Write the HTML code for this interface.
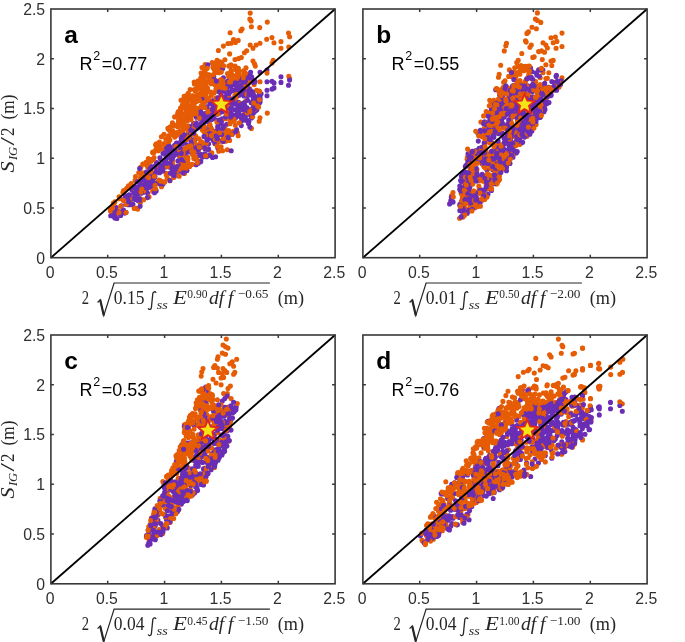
<!DOCTYPE html>
<html><head><meta charset="utf-8"><style>
html,body{margin:0;padding:0;background:#fff;}
svg{display:block;will-change:transform;}
.tk{font-family:"Liberation Sans",sans-serif;font-size:15.8px;fill:#303030;}
.pl{font-family:"Liberation Sans",sans-serif;font-size:24.5px;font-weight:bold;fill:#000;}
.r2{font-family:"Liberation Sans",sans-serif;font-size:18px;fill:#000;}
.lab{font-family:"Liberation Serif",serif;font-size:19px;fill:#262626;}
</style></head><body>
<svg width="685" height="642" viewBox="0 0 685 642">
<rect width="685" height="642" fill="#fff"/>
<g>
<path d="M203.9 131.5h0M198.3 111.1h0M225.7 141.2h0M197.9 96.8h0M202.1 88.6h0M214.8 143.4h0M167.8 137.6h0M256.5 90.4h0M242.1 29.0h0M168.5 135.7h0M238.4 73.2h0M238.4 68.4h0M172.7 164.3h0M249.8 88.9h0M240.1 107.8h0M209.3 79.8h0M130.6 204.7h0M187.4 114.0h0M130.0 196.1h0M212.5 75.6h0M174.1 125.4h0M173.7 126.0h0M246.7 50.8h0M141.2 185.3h0M165.7 138.8h0M205.8 69.6h0M237.3 75.2h0M198.2 88.3h0M222.0 119.8h0M188.0 95.6h0M215.1 85.1h0M235.3 79.8h0M202.4 97.3h0M201.1 73.0h0M288.8 76.2h0M218.0 67.1h0M147.4 165.4h0M245.7 101.0h0M183.2 122.4h0M192.5 103.8h0M245.9 119.6h0M231.0 64.8h0M219.8 65.0h0M166.3 174.9h0M223.4 128.1h0M272.0 63.0h0M178.0 123.8h0M177.7 114.3h0M196.9 108.2h0M138.7 172.8h0M196.9 124.7h0M183.7 124.9h0M281.0 41.6h0M241.2 90.1h0M218.8 63.4h0M220.9 80.6h0M237.4 132.6h0M181.0 151.9h0M196.6 96.0h0M185.0 121.0h0M259.1 91.0h0M200.1 93.6h0M188.3 107.0h0M218.8 62.8h0M164.6 143.8h0M251.5 110.4h0M211.2 83.8h0M227.3 149.7h0M135.8 208.4h0M250.2 13.1h0M175.7 153.8h0M194.2 82.0h0M193.9 133.9h0M208.0 100.2h0M244.3 92.6h0M178.7 117.0h0M184.2 117.7h0M182.2 131.6h0M157.6 182.1h0M267.3 22.1h0" stroke="#E65C05" stroke-width="5.1" stroke-linecap="round" fill="none"/>
<path d="M166.0 148.2h0M203.3 145.2h0M255.5 101.2h0M179.5 142.9h0M240.5 78.5h0M149.5 177.9h0M220.2 92.3h0M237.3 103.9h0M236.5 129.5h0M223.4 77.8h0M176.2 144.7h0M142.3 187.5h0M164.0 162.1h0M212.9 108.5h0M186.6 158.9h0M217.2 120.2h0M267.0 90.2h0M133.3 186.5h0M172.4 170.0h0M117.8 213.3h0M187.2 164.9h0M255.4 111.1h0M216.9 100.2h0M252.0 108.8h0M218.3 123.6h0M208.7 135.2h0M149.6 167.5h0M193.4 139.9h0M144.0 188.6h0M253.3 80.1h0M173.6 171.7h0M244.4 114.4h0M251.6 118.0h0M185.7 150.7h0M141.6 185.2h0M237.4 81.5h0M146.5 172.2h0M207.3 113.1h0M226.8 93.0h0M237.4 81.5h0M274.0 82.9h0M116.2 207.5h0M218.2 132.5h0M176.5 143.3h0M197.4 160.5h0M180.1 150.0h0M129.1 194.8h0M222.0 118.8h0M244.9 88.8h0M225.7 90.6h0M221.5 121.4h0M171.8 157.4h0M244.8 106.2h0M202.3 119.4h0M128.8 197.0h0M224.2 102.1h0M217.8 148.1h0M125.5 195.8h0M239.3 87.0h0M187.5 138.5h0M202.8 146.3h0M116.5 213.2h0M223.0 128.7h0M203.2 124.4h0M227.5 91.8h0M230.4 108.9h0M148.1 187.7h0" stroke="#6A2DB5" stroke-width="5.1" stroke-linecap="round" fill="none"/>
<path d="M250.0 94.1h0M170.4 147.9h0M226.8 124.3h0M208.8 112.5h0M131.9 190.0h0M187.0 145.4h0M207.5 136.4h0M189.4 129.4h0M203.2 122.9h0M200.7 154.2h0M194.8 123.4h0M156.6 162.5h0M239.4 110.7h0M232.2 134.3h0M171.1 153.9h0M208.7 150.0h0M147.7 193.3h0M173.6 156.0h0M195.1 158.3h0M196.2 122.7h0M241.9 120.4h0M205.3 156.3h0M189.4 126.6h0M252.6 92.0h0M233.1 90.7h0M202.1 155.7h0M251.6 76.9h0M175.4 150.6h0M185.7 140.5h0M247.0 107.7h0M164.6 166.3h0M223.2 90.2h0M223.2 141.5h0M203.4 122.7h0M248.0 114.2h0M196.3 128.8h0M115.6 213.0h0M141.8 184.9h0M176.1 168.0h0M150.8 168.1h0M144.3 178.5h0M166.3 164.4h0M254.2 80.9h0M182.5 136.0h0M213.2 100.6h0M245.2 120.1h0M219.3 86.8h0M252.3 111.5h0M246.4 93.9h0M258.5 98.9h0M222.0 110.8h0M115.3 209.7h0M225.5 133.6h0M170.1 148.3h0M244.1 102.7h0M252.6 79.8h0M145.0 176.9h0M156.8 163.6h0M123.4 210.1h0M207.3 149.2h0M214.9 101.1h0M165.6 160.0h0M138.2 200.7h0M238.0 108.1h0M134.7 191.4h0M225.4 98.0h0M251.6 109.2h0M227.0 132.3h0M253.0 100.8h0M144.4 191.2h0M173.1 175.9h0M245.6 78.8h0M156.2 190.9h0M151.6 187.3h0" stroke="#6A2DB5" stroke-width="5.1" stroke-linecap="round" fill="none"/>
<path d="M211.0 92.0h0M187.8 157.4h0M289.6 78.5h0M181.8 130.8h0M221.1 146.7h0M198.3 151.2h0M208.3 110.2h0M184.5 173.4h0M190.7 107.4h0M189.4 98.5h0M193.8 108.3h0M230.8 66.6h0M149.3 174.7h0M223.9 109.7h0M168.3 137.9h0M229.6 140.4h0M235.9 103.7h0M184.1 126.6h0M149.0 196.9h0M161.5 186.8h0M288.5 33.1h0M153.4 159.3h0M176.1 168.4h0M189.1 111.2h0M239.2 71.0h0M166.8 174.2h0M156.4 143.9h0M161.9 149.0h0M239.3 107.6h0M209.4 123.4h0M187.7 162.8h0M225.4 118.8h0M205.6 97.8h0M140.3 203.0h0M233.5 131.2h0M221.6 89.9h0M199.9 100.5h0M208.3 130.9h0M191.0 149.6h0M248.1 92.6h0M156.8 144.2h0M215.1 80.3h0M231.1 85.8h0M202.4 130.0h0M182.4 131.4h0M183.8 127.6h0M196.5 101.6h0M220.4 67.4h0M177.7 166.6h0M267.3 113.1h0M169.9 180.7h0M235.0 59.5h0M134.6 192.3h0M209.3 124.6h0M206.7 98.4h0M251.7 109.7h0M201.5 125.2h0M191.8 105.9h0M204.2 73.9h0M232.7 75.2h0M178.4 166.0h0M192.7 96.4h0M170.9 160.9h0M260.0 43.2h0M217.1 60.2h0M137.7 209.1h0M155.8 150.3h0M181.8 168.2h0M213.7 81.1h0M130.8 202.9h0M178.2 133.2h0M204.9 81.7h0M273.2 60.2h0M233.1 79.6h0M209.8 155.5h0M272.0 37.6h0M223.8 83.5h0M145.8 181.4h0M240.5 117.0h0M212.6 132.4h0M231.7 121.3h0M243.8 74.4h0" stroke="#E65C05" stroke-width="5.1" stroke-linecap="round" fill="none"/>
<path d="M182.8 169.4h0M229.3 131.6h0M193.5 102.0h0M135.5 176.5h0M176.3 172.9h0M230.0 123.7h0M156.8 146.8h0M227.9 131.8h0M184.9 115.6h0M191.6 131.6h0M156.3 149.3h0M215.9 89.3h0M225.2 83.7h0M231.0 70.8h0M116.1 213.3h0M188.5 116.5h0M167.2 177.7h0M289.6 36.8h0M197.0 160.5h0M148.4 159.4h0M184.2 106.8h0M241.2 76.7h0M244.4 52.8h0M254.6 108.0h0M217.6 127.1h0M110.7 208.1h0M213.1 66.9h0M171.7 173.2h0M211.8 109.0h0M204.7 102.0h0M227.5 112.9h0M169.1 130.0h0M158.5 150.7h0M225.2 134.1h0M195.3 101.7h0M214.9 72.7h0M189.1 95.4h0M197.8 111.6h0M192.4 95.7h0M246.1 83.9h0M196.8 157.0h0M218.1 62.1h0M119.1 196.8h0M182.8 116.4h0M142.5 172.8h0M211.8 152.9h0M194.3 89.5h0M233.0 81.1h0M220.0 61.7h0M169.9 140.1h0M158.5 146.0h0M178.5 120.6h0M228.6 76.8h0M152.1 159.9h0M201.9 145.6h0M159.4 142.0h0M223.3 81.2h0M234.3 121.1h0M219.9 62.1h0M251.4 128.4h0M200.5 109.3h0M140.6 167.5h0M171.1 150.1h0M146.6 176.6h0M204.3 87.4h0M213.9 92.9h0M177.7 126.7h0M188.5 109.3h0M172.6 130.7h0M202.0 67.6h0M228.7 96.6h0M220.2 80.3h0M245.9 115.0h0M166.2 173.3h0M216.5 91.3h0M254.2 84.6h0M168.5 142.5h0M213.9 82.6h0M168.5 129.1h0" stroke="#E65C05" stroke-width="5.1" stroke-linecap="round" fill="none"/>
<path d="M212.9 105.2h0M226.9 87.7h0M227.5 107.9h0M241.2 117.0h0M151.2 166.5h0M257.5 96.9h0M259.7 102.4h0M169.5 146.3h0M140.4 200.3h0M149.1 177.0h0M238.6 80.2h0M224.3 100.5h0M288.5 85.2h0M212.8 112.3h0M258.9 97.2h0M193.6 123.6h0M176.6 143.1h0M225.1 97.4h0M243.6 85.7h0M148.6 180.7h0M217.8 97.9h0M243.0 115.4h0M121.2 205.9h0M242.9 83.0h0M164.2 153.4h0M216.7 143.0h0M150.2 179.6h0M209.9 103.4h0M165.5 167.0h0M143.0 191.7h0M247.6 100.2h0M175.0 171.7h0M174.3 176.7h0M159.6 172.8h0M253.1 97.2h0M232.0 119.5h0M251.4 91.2h0M230.5 86.2h0M236.5 103.6h0M188.5 133.7h0M219.6 141.0h0M181.2 138.4h0M256.9 109.8h0M220.2 98.9h0M182.8 136.0h0M120.7 215.5h0M184.9 166.6h0M180.0 156.6h0M196.1 164.7h0M192.7 154.0h0M255.1 81.6h0M165.9 158.9h0M125.4 196.8h0M183.6 136.5h0M201.7 117.7h0M217.2 137.8h0M189.2 126.4h0M241.9 91.8h0M210.8 132.8h0M155.0 176.4h0M260.2 99.2h0M237.1 104.1h0M189.3 133.8h0M160.7 165.3h0M155.5 189.8h0M221.2 94.1h0M152.0 184.4h0M187.0 117.1h0M241.7 106.1h0M224.7 105.8h0M174.6 145.2h0M202.5 157.0h0M159.2 183.7h0M183.9 161.3h0M212.4 137.0h0M215.0 143.2h0M139.9 184.7h0M225.7 131.7h0" stroke="#6A2DB5" stroke-width="5.1" stroke-linecap="round" fill="none"/>
<path d="M244.7 105.3h0M199.1 146.2h0M210.2 119.4h0M194.2 142.1h0M129.9 200.8h0M127.0 197.8h0M163.0 184.0h0M222.7 68.6h0M185.2 154.4h0M190.3 127.1h0M259.4 93.2h0M222.5 140.7h0M213.8 132.3h0M202.1 98.4h0M221.2 97.1h0M214.9 109.3h0M217.9 126.3h0M224.7 104.8h0M189.2 152.0h0M144.3 180.4h0M208.2 115.0h0M189.5 148.2h0M186.0 137.3h0M237.5 95.8h0M214.0 101.7h0M216.9 112.4h0M218.1 122.4h0M170.0 148.4h0M200.8 161.4h0M237.5 91.3h0M199.8 155.3h0M125.7 197.9h0M229.2 99.8h0M232.1 134.0h0M147.3 197.6h0M230.9 116.9h0M142.9 180.2h0M249.8 75.4h0M247.8 84.4h0M226.8 93.3h0M125.9 212.2h0M121.3 213.2h0M253.4 82.4h0M230.7 100.5h0M208.5 148.8h0M246.7 114.5h0M246.6 88.5h0M165.4 160.1h0M260.0 96.4h0M193.1 130.8h0M167.1 154.3h0M224.8 99.0h0M181.5 138.7h0M221.6 134.6h0M146.2 190.4h0M235.7 131.8h0M205.6 117.5h0M114.9 217.9h0M230.8 102.4h0M181.9 164.7h0M214.1 134.1h0M183.8 149.0h0M214.2 118.5h0M212.5 157.5h0M167.6 163.5h0M223.9 90.0h0M130.4 200.5h0M251.5 116.6h0M167.4 151.5h0M241.3 125.6h0M182.9 171.4h0M239.4 115.4h0M251.2 77.8h0M179.8 171.2h0M253.5 113.0h0M183.7 142.5h0M215.8 107.6h0M195.1 139.6h0" stroke="#6A2DB5" stroke-width="5.1" stroke-linecap="round" fill="none"/>
<path d="M260.0 81.7h0M186.7 126.5h0M217.9 72.0h0M229.8 119.9h0M200.9 147.2h0M238.2 40.4h0M245.4 74.0h0M200.7 143.6h0M198.0 85.8h0M202.7 91.7h0M211.2 137.7h0M164.5 144.4h0M288.8 47.1h0M119.5 198.8h0M231.5 134.6h0M152.6 191.3h0M207.5 88.0h0M149.3 159.8h0M192.0 164.4h0M230.4 120.6h0M229.7 117.9h0M177.1 132.7h0M259.7 27.6h0M118.0 210.8h0M208.6 81.4h0M193.8 158.6h0M176.6 132.6h0M198.1 110.6h0M180.3 158.1h0M218.8 88.2h0M202.4 94.4h0M240.8 30.7h0M170.8 130.5h0M187.4 120.7h0M210.5 80.5h0M258.6 106.9h0M229.6 53.9h0M168.7 139.1h0M177.4 170.2h0M170.3 126.8h0M253.0 48.2h0M171.3 131.8h0M260.0 117.8h0M146.0 162.4h0M200.4 126.5h0M181.7 169.8h0M232.0 80.0h0M253.0 61.1h0M176.6 135.1h0M184.8 128.8h0M238.4 75.9h0M183.0 99.7h0M203.1 78.3h0M178.8 133.1h0M148.3 162.6h0M145.4 182.7h0M205.3 94.2h0M140.4 178.1h0M192.4 146.4h0M179.2 150.8h0M179.9 131.0h0M206.2 84.2h0M199.6 99.7h0M236.1 97.6h0M114.0 203.5h0M221.1 79.6h0M128.5 185.8h0M205.1 86.9h0M233.5 120.9h0M221.9 64.2h0M200.9 77.6h0M186.8 111.9h0M160.6 181.1h0M147.6 167.0h0M178.6 126.5h0M155.8 170.8h0" stroke="#E65C05" stroke-width="5.1" stroke-linecap="round" fill="none"/>
<path d="M235.6 68.0h0M234.7 100.8h0M120.7 206.3h0M181.0 116.7h0M217.4 67.6h0M183.1 126.6h0M194.4 84.0h0M237.5 72.5h0M223.6 126.2h0M180.5 108.0h0M140.0 198.5h0M199.4 95.3h0M194.3 141.1h0M200.0 143.6h0M243.4 110.1h0M182.2 130.9h0M194.0 107.5h0M206.5 155.9h0M212.2 62.5h0M237.5 78.3h0M154.0 189.8h0M254.2 109.5h0M197.6 96.9h0M204.9 148.8h0M114.9 201.9h0M167.9 128.4h0M186.0 115.4h0M201.0 93.3h0M229.3 105.2h0M211.3 95.5h0M189.2 137.8h0M236.3 75.5h0M180.1 167.1h0M182.0 113.7h0M113.4 203.1h0M213.1 67.4h0M190.1 89.6h0M209.0 99.2h0M131.4 184.8h0M220.1 63.5h0M182.4 125.1h0M218.2 88.0h0M193.7 127.9h0M169.1 128.0h0M159.6 146.0h0M249.8 19.0h0M219.0 141.5h0M215.3 65.5h0M196.9 145.0h0M186.2 110.0h0M194.1 104.9h0M228.0 43.5h0M186.1 95.9h0M185.9 135.6h0M255.1 103.3h0M154.1 157.6h0M172.5 161.1h0M151.7 159.5h0M136.7 208.2h0M186.8 147.5h0M204.3 79.8h0M194.1 115.0h0M218.0 85.5h0M131.2 183.5h0M237.1 76.4h0M239.0 72.3h0M198.3 108.4h0M177.9 112.7h0M198.7 146.2h0M180.8 153.9h0M218.7 151.3h0M184.0 102.6h0M194.5 148.9h0M205.5 136.8h0M195.9 136.3h0M190.2 117.3h0M197.0 95.4h0M190.7 117.9h0M189.0 165.6h0M201.6 141.8h0M204.6 145.4h0M197.7 85.7h0M146.5 187.1h0M143.6 199.7h0M223.4 46.1h0M183.6 119.3h0M194.9 123.8h0M202.9 74.0h0M192.8 111.8h0" stroke="#E65C05" stroke-width="5.1" stroke-linecap="round" fill="none"/>
<path d="M169.9 180.5h0M156.6 168.1h0M231.2 85.6h0M128.3 204.8h0M138.1 187.6h0M169.4 167.1h0M200.0 161.9h0M242.8 90.5h0M246.4 114.0h0M236.5 89.3h0M260.0 101.9h0M177.0 166.6h0M239.1 92.8h0M151.5 178.5h0M219.3 91.8h0M116.9 218.5h0M206.6 121.1h0M169.6 148.5h0M155.8 172.2h0M135.4 187.7h0M205.1 148.7h0M235.8 117.5h0M214.8 110.0h0M230.3 113.9h0M213.3 140.5h0M154.3 177.7h0M207.7 115.6h0M204.0 145.0h0M188.9 128.3h0M229.7 85.3h0M215.6 156.7h0M121.4 211.9h0M181.2 163.5h0M216.7 114.3h0M190.8 146.2h0M267.0 70.0h0M260.0 72.3h0M207.9 134.3h0M216.2 130.8h0M142.0 189.6h0M229.2 102.3h0M243.3 84.8h0M180.4 154.2h0M133.0 204.3h0M184.1 152.9h0M222.6 140.3h0M267.0 95.7h0M170.0 155.2h0M170.8 150.5h0M211.8 114.2h0M135.6 188.5h0M246.7 112.9h0M226.4 91.8h0M229.1 93.5h0M200.4 119.1h0M166.8 150.2h0M220.9 106.7h0M196.6 159.6h0M242.8 109.4h0M145.4 184.3h0M221.4 99.2h0M146.8 186.8h0M235.3 84.8h0M198.2 163.3h0M198.4 149.5h0M139.6 182.6h0M214.6 112.6h0M281.0 76.7h0M241.8 79.4h0M241.2 85.0h0M238.1 103.0h0M207.1 106.7h0M214.8 113.6h0M261.1 93.8h0" stroke="#6A2DB5" stroke-width="5.1" stroke-linecap="round" fill="none"/>
<path d="M183.9 151.2h0M142.4 179.4h0M156.5 172.0h0M184.6 134.9h0M205.3 115.7h0M200.8 111.7h0M253.5 105.2h0M199.2 86.4h0M174.8 150.2h0M220.1 123.5h0M206.6 156.7h0M211.6 119.5h0M167.1 151.2h0M198.0 127.8h0M249.3 76.7h0M155.3 165.6h0M245.2 83.4h0M156.6 164.0h0M183.2 172.9h0M253.8 95.0h0M159.9 157.7h0M249.8 127.1h0M237.2 110.3h0M236.4 89.1h0M241.6 116.8h0M190.3 135.6h0M115.8 210.5h0M205.4 127.7h0M125.9 204.3h0M247.0 95.5h0M200.7 154.9h0M204.7 120.4h0M182.0 136.2h0M254.1 108.7h0M243.2 86.8h0M160.2 158.6h0M230.4 91.6h0M152.6 180.3h0M281.0 82.4h0M195.6 125.1h0M209.5 155.2h0M218.6 129.7h0M248.5 123.6h0M210.7 127.7h0M207.0 121.1h0M213.8 76.6h0M230.0 114.4h0M193.2 132.9h0M238.5 102.2h0M165.1 154.3h0M196.4 117.3h0M170.7 173.1h0M152.7 174.0h0M208.8 138.5h0M135.7 196.9h0M204.8 153.8h0M248.9 89.1h0M200.0 114.9h0M150.7 184.3h0M251.2 102.8h0M215.1 106.1h0M151.9 183.0h0M244.5 82.2h0M274.0 87.9h0M164.1 165.5h0M146.4 172.1h0M240.5 106.6h0M249.7 92.5h0M234.9 83.1h0M124.9 213.1h0M236.7 103.6h0M208.6 143.8h0M139.5 198.9h0M134.4 197.8h0M170.2 163.4h0M234.4 115.2h0M151.3 182.6h0M145.4 188.3h0M244.1 96.0h0M143.6 192.2h0M225.8 92.1h0M211.9 117.7h0M197.9 127.1h0M155.5 183.6h0M191.0 141.9h0" stroke="#6A2DB5" stroke-width="5.1" stroke-linecap="round" fill="none"/>
<path d="M225.0 128.5h0M274.0 42.7h0M155.6 144.9h0M207.8 90.3h0M195.3 91.2h0M224.5 85.3h0M180.0 132.2h0M200.2 88.1h0M237.4 68.4h0M214.3 132.2h0M188.5 146.6h0M259.5 91.4h0M182.3 105.0h0M228.8 66.1h0M195.3 99.0h0M206.7 97.3h0M174.6 134.4h0M196.2 113.8h0M164.0 134.3h0M205.7 134.9h0M188.3 137.5h0M215.8 62.7h0M223.6 65.7h0M187.4 101.7h0M181.8 155.7h0M216.9 121.9h0M215.1 133.7h0M209.5 75.0h0M176.0 146.6h0M221.4 65.1h0M200.5 93.4h0M222.4 87.7h0M119.0 212.6h0M235.5 42.4h0M223.2 105.6h0M140.8 175.1h0M239.9 103.3h0M129.4 199.3h0M201.4 105.5h0M238.6 58.6h0M281.0 48.2h0M164.3 181.7h0M235.3 125.3h0M187.7 158.7h0M130.4 203.2h0M194.4 100.9h0M134.2 208.4h0M247.1 112.9h0M194.9 113.3h0M250.2 45.0h0M159.6 167.9h0M161.4 136.7h0M211.6 129.0h0M191.6 151.0h0M197.2 87.2h0M211.6 110.8h0M201.2 78.1h0M135.9 180.8h0M126.7 188.2h0M221.7 62.6h0M205.5 95.2h0M111.8 212.7h0M140.8 167.2h0M251.1 20.9h0M200.8 86.5h0M215.2 139.2h0M259.3 99.7h0M126.2 204.3h0M179.2 176.2h0M183.2 165.4h0M148.6 177.6h0M204.5 69.5h0M150.8 171.7h0M180.0 160.9h0M191.7 134.1h0M206.3 82.4h0M224.9 59.8h0M205.1 64.5h0M184.8 148.9h0M185.7 96.5h0" stroke="#E65C05" stroke-width="5.1" stroke-linecap="round" fill="none"/>
<path d="M193.0 111.4h0M228.8 130.5h0M206.4 143.0h0M196.9 159.5h0M204.1 102.6h0M196.4 82.8h0M199.1 138.8h0M221.3 72.1h0M219.0 146.8h0M204.0 81.8h0M156.0 149.9h0M245.3 86.9h0M205.0 91.0h0M152.8 152.8h0M155.1 185.4h0M204.5 69.4h0M204.2 77.1h0M238.2 135.7h0M135.0 180.4h0M129.6 186.2h0M227.5 73.5h0M180.7 123.7h0M188.2 93.3h0M154.0 152.5h0M189.2 164.3h0M202.0 143.4h0M213.3 74.8h0M215.7 82.0h0M143.6 191.0h0M245.6 73.4h0M223.1 138.5h0M218.9 81.8h0M218.8 72.8h0M246.0 67.9h0M173.6 177.5h0M170.3 156.6h0M249.2 82.6h0M204.9 107.5h0M154.4 176.2h0M227.1 135.5h0M231.2 43.2h0M195.6 96.8h0M207.3 92.1h0M241.3 57.5h0M215.8 98.1h0M231.3 72.0h0M183.2 153.3h0M246.9 94.3h0M199.6 82.9h0M183.4 114.4h0M174.6 116.9h0M233.5 39.6h0M217.1 146.1h0M220.0 84.9h0M181.0 100.3h0M185.1 113.6h0M252.7 116.7h0M186.6 139.5h0M191.8 100.2h0M256.1 45.0h0M187.4 104.2h0M190.7 96.8h0M266.7 39.3h0M167.2 166.6h0M217.8 139.4h0M254.5 63.7h0M186.3 157.9h0M179.1 155.4h0M122.9 192.6h0M206.3 74.3h0M259.2 121.2h0M160.4 180.7h0M178.4 111.5h0M239.2 76.2h0M203.3 103.4h0M234.0 119.2h0M188.0 130.4h0M209.9 81.4h0M214.1 69.3h0M225.5 133.0h0M206.5 92.7h0M234.9 95.5h0M202.1 91.1h0M194.3 97.5h0M225.8 136.0h0M189.7 166.4h0" stroke="#E65C05" stroke-width="5.1" stroke-linecap="round" fill="none"/>
<path d="M162.9 170.9h0M250.6 72.3h0M232.4 89.7h0M239.7 90.4h0M248.9 91.5h0M230.7 117.1h0M212.2 109.6h0M240.8 117.1h0M201.2 123.5h0M231.3 107.9h0M166.8 163.2h0M114.1 214.8h0M234.6 109.7h0M145.9 182.8h0M160.1 168.4h0M174.0 175.5h0M141.3 193.2h0M244.6 117.3h0M167.8 147.0h0M219.6 112.9h0M128.6 201.4h0M141.9 189.8h0M234.4 103.9h0M207.9 64.7h0M181.7 159.6h0M182.2 144.0h0M182.0 138.6h0M246.8 119.9h0M138.2 193.5h0M239.8 95.1h0M175.3 169.5h0M217.9 98.0h0M200.7 126.1h0M205.8 113.3h0M239.1 89.9h0M222.8 127.9h0M223.6 125.9h0M203.6 113.8h0M154.5 192.8h0M149.9 168.7h0M113.9 211.3h0M237.7 113.1h0M220.5 129.7h0M171.7 159.2h0M220.9 103.2h0M199.6 147.5h0M247.5 110.6h0M223.3 111.7h0M253.0 113.1h0M172.6 166.7h0M140.1 206.3h0M242.9 119.2h0M237.7 105.2h0M238.9 110.6h0M187.0 170.5h0M170.5 173.0h0M227.6 81.2h0" stroke="#6A2DB5" stroke-width="5.1" stroke-linecap="round" fill="none"/>
<path d="M136.2 196.3h0M151.0 168.4h0M167.4 148.3h0M190.8 130.2h0M205.2 118.7h0M215.8 136.1h0M231.2 113.2h0M227.7 85.9h0M237.3 114.2h0M217.0 136.0h0M145.4 187.5h0M231.2 150.8h0M161.4 171.0h0M212.7 110.2h0M216.4 81.1h0M213.5 114.1h0M241.4 79.1h0M161.2 165.3h0M217.8 108.3h0M196.4 151.9h0M241.0 104.5h0M267.0 81.7h0M180.0 147.5h0M228.2 137.4h0M177.9 160.9h0M232.2 103.0h0M139.6 168.6h0M200.6 155.6h0M224.6 99.8h0M249.0 95.1h0M289.6 80.1h0M147.7 185.0h0M127.6 197.6h0M221.5 134.4h0M219.2 120.0h0M123.7 199.6h0M199.4 146.4h0M135.3 199.5h0M204.0 136.4h0M232.7 98.9h0M170.2 157.8h0M128.6 195.5h0M253.7 98.7h0M248.2 77.9h0M272.0 89.1h0M217.3 138.8h0M195.9 124.2h0M238.1 85.7h0M206.9 140.1h0M131.3 204.5h0M163.0 153.6h0M243.6 119.5h0M176.4 154.2h0M245.5 80.8h0M248.9 121.7h0M137.4 190.5h0M137.4 181.7h0M171.6 149.9h0M193.8 132.9h0M255.4 102.9h0M191.4 145.4h0M114.6 217.1h0M196.1 147.8h0M192.5 131.1h0M133.7 193.2h0M143.5 179.3h0M272.0 81.3h0M225.5 117.1h0M110.7 215.7h0M170.7 153.9h0M242.4 103.8h0M245.9 109.3h0M181.3 153.4h0M206.8 116.9h0M243.1 88.8h0M135.7 187.0h0M172.6 157.8h0M137.9 193.8h0" stroke="#6A2DB5" stroke-width="5.1" stroke-linecap="round" fill="none"/>
<path d="M187.8 160.2h0M191.0 119.7h0M187.4 125.9h0M152.7 152.1h0M112.5 208.0h0M255.3 66.1h0M208.8 74.7h0M218.4 50.5h0M230.3 74.8h0M198.1 80.9h0M235.6 69.4h0M237.6 77.2h0M218.0 113.9h0M181.5 109.1h0M184.6 119.7h0M199.3 118.1h0M187.2 97.4h0M257.4 105.7h0M267.0 73.1h0M192.8 154.4h0M243.6 70.7h0M217.3 66.3h0M207.3 68.2h0M222.6 150.8h0M178.8 118.1h0M163.6 143.9h0M144.3 164.3h0M239.3 122.8h0M230.6 81.8h0M197.3 162.6h0M191.0 119.5h0M180.9 111.6h0M225.2 88.2h0M196.1 90.1h0M176.7 134.9h0M219.6 132.8h0M229.3 82.1h0M243.3 77.8h0M155.4 188.8h0M202.6 77.5h0M182.3 121.4h0M126.1 212.5h0M209.3 76.7h0M141.8 189.0h0M235.0 66.1h0M170.9 132.8h0M172.4 122.9h0M188.6 115.7h0M187.7 159.8h0M123.6 190.5h0M174.8 137.1h0M236.2 94.4h0M164.7 182.1h0M141.0 192.1h0M194.0 152.4h0M195.4 157.3h0M190.4 112.5h0M249.8 111.6h0M226.5 113.9h0M148.4 158.6h0M142.8 164.0h0M211.3 135.5h0M186.8 99.6h0M151.0 161.3h0M199.3 147.1h0M205.2 84.3h0M204.6 127.6h0M205.7 155.8h0M184.1 96.4h0M187.2 164.2h0M207.8 111.9h0M159.1 180.0h0M123.4 200.4h0M206.8 75.9h0M230.1 32.7h0M148.9 159.3h0M190.9 145.9h0M183.4 165.2h0M251.4 26.8h0M110.3 210.7h0M186.2 168.1h0M210.1 125.4h0M253.8 103.0h0M202.8 82.3h0M171.3 135.0h0" stroke="#E65C05" stroke-width="5.1" stroke-linecap="round" fill="none"/>
<line x1="50.9" y1="257.7" x2="335.1" y2="9.0" stroke="#000" stroke-width="1.8"/>
<polygon points="221.31,93.90 224.08,100.58 231.29,101.16 225.80,105.86 227.48,112.90 221.31,109.13 215.13,112.90 216.81,105.86 211.32,101.16 218.53,100.58" fill="#F4E514" stroke="#E2261F" stroke-width="1.9" stroke-linejoin="miter"/>
<rect x="50.9" y="9.0" width="284.2" height="248.7" fill="none" stroke="#383838" stroke-width="1.6"/>
<path d="M107.7 257.7v-3M107.7 9.0v3M50.9 208.0h3M335.1 208.0h-3M164.6 257.7v-3M164.6 9.0v3M50.9 158.2h3M335.1 158.2h-3M221.4 257.7v-3M221.4 9.0v3M50.9 108.5h3M335.1 108.5h-3M278.3 257.7v-3M278.3 9.0v3M50.9 58.7h3M335.1 58.7h-3" stroke="#383838" stroke-width="1.5" fill="none"/>
<text x="50.1" y="277.6" text-anchor="middle" class="tk">0</text>
<text x="45.1" y="263.5" text-anchor="end" class="tk">0</text>
<text x="106.9" y="277.6" text-anchor="middle" class="tk">0.5</text>
<text x="45.1" y="213.8" text-anchor="end" class="tk">0.5</text>
<text x="163.8" y="277.6" text-anchor="middle" class="tk">1</text>
<text x="45.1" y="164.0" text-anchor="end" class="tk">1</text>
<text x="220.6" y="277.6" text-anchor="middle" class="tk">1.5</text>
<text x="45.1" y="114.3" text-anchor="end" class="tk">1.5</text>
<text x="277.5" y="277.6" text-anchor="middle" class="tk">2</text>
<text x="45.1" y="64.5" text-anchor="end" class="tk">2</text>
<text x="334.3" y="277.6" text-anchor="middle" class="tk">2.5</text>
<text x="45.1" y="14.8" text-anchor="end" class="tk">2.5</text>
<text x="64.2" y="43.2" class="pl">a</text>
<text x="79.4" y="69.8" class="r2">R</text><text x="93.3" y="60.2" class="r2" style="font-size:12.5px">2</text><text x="101.8" y="69.8" class="r2">=0.77</text>
<g transform="translate(14.1 172.5) rotate(-90)" class="lab"><text x="0.0" y="0" font-size="19.5" font-style="italic" textLength="11.1" lengthAdjust="spacingAndGlyphs">S</text><text x="12.4" y="3" font-size="13.5" font-style="italic" textLength="13.3" lengthAdjust="spacingAndGlyphs">IG</text><text x="27.0" y="0" font-size="19.5" textLength="8.5" lengthAdjust="spacingAndGlyphs">/</text><text x="36.4" y="0" font-size="19.5" textLength="8.5" lengthAdjust="spacingAndGlyphs">2</text><text x="53.1" y="0" font-size="19.5" textLength="24.8" lengthAdjust="spacingAndGlyphs">(m)</text></g>
<g class="lab"><text x="81.7" y="304.0" font-size="19.5" textLength="7.3" lengthAdjust="spacingAndGlyphs">2</text><text x="113.8" y="304.0" font-size="19.5" textLength="30.6" lengthAdjust="spacingAndGlyphs">0.15</text><text x="156.8" y="309.2" font-size="13" font-style="italic" textLength="11.0" lengthAdjust="spacingAndGlyphs">ss</text><text x="173.1" y="304.0" font-size="19.5" font-style="italic" textLength="13.9" lengthAdjust="spacingAndGlyphs">E</text><text x="187.3" y="298.4" font-size="13" textLength="20.1" lengthAdjust="spacingAndGlyphs">0.90</text><text x="209.1" y="304.0" font-size="19.5" font-style="italic">df</text><text x="228.1" y="304.0" font-size="19.5" font-style="italic">f</text><text x="237.8" y="298.4" font-size="13" textLength="30.7" lengthAdjust="spacingAndGlyphs">&#8722;0.65</text><text x="277.7" y="304.0" font-size="19.5" textLength="26.3" lengthAdjust="spacingAndGlyphs">(m)</text></g>
<path d="M97.6 302.5L100.2 299.8L103.8 315.5L114.1 283.0H269.9" fill="none" stroke="#262626" stroke-width="1.2"/>
<path d="M100.2 299.8L103.8 315.5" stroke="#262626" stroke-width="2.2"/>
<path d="M156.1 292.8c-0.8-1.6-3-1.4-3.3 0.8L151.4 307.6c-0.3 2.2-2.5 2.4-3.3 0.8" fill="none" stroke="#262626" stroke-width="1.3"/>
</g><g>
<path d="M473.9 193.9h0M526.2 42.1h0M491.5 189.1h0M527.1 136.3h0M487.7 163.7h0M503.7 124.7h0M470.9 201.2h0M519.6 71.3h0M510.5 133.4h0M521.0 65.5h0M555.4 37.0h0M530.4 89.0h0M484.2 130.8h0M527.0 124.3h0M482.7 200.1h0M514.7 136.6h0M538.6 51.6h0M516.7 85.6h0M513.0 94.1h0M518.8 116.5h0M468.5 157.1h0M520.1 94.9h0M502.0 89.9h0M554.6 82.6h0M496.6 184.0h0M541.1 86.1h0M503.7 87.5h0M494.8 119.8h0M516.7 108.5h0M493.2 178.5h0M468.2 176.1h0M496.4 151.2h0M491.4 141.9h0M534.0 88.6h0M517.8 87.6h0M509.8 102.6h0M508.6 124.7h0M490.7 185.6h0M528.6 107.1h0M562.0 77.9h0M518.6 105.2h0M529.1 126.0h0M476.7 157.7h0M539.5 109.1h0M484.8 160.6h0M492.7 159.9h0M512.4 87.0h0M556.1 48.2h0M471.1 183.9h0M469.5 166.7h0M488.4 183.6h0M484.9 142.8h0M503.4 169.1h0M506.1 114.2h0M514.4 152.9h0M503.1 154.2h0M497.3 164.2h0M470.1 177.0h0M471.0 180.1h0M505.8 45.8h0M502.8 161.4h0M527.6 70.1h0M487.5 176.9h0M536.1 124.5h0M470.1 205.5h0M478.8 158.1h0M501.4 115.9h0M509.4 150.7h0M476.8 177.4h0M531.2 104.3h0M494.0 101.6h0M480.9 122.0h0M482.7 157.0h0" stroke="#E65C05" stroke-width="5.1" stroke-linecap="round" fill="none"/>
<path d="M530.2 103.7h0M536.6 90.0h0M495.6 158.6h0M516.7 94.1h0M546.8 92.7h0M495.0 152.5h0M561.1 80.8h0M472.4 170.3h0M468.7 193.7h0M477.7 175.7h0M527.6 130.4h0M496.9 133.0h0M496.4 114.6h0M462.4 173.4h0M482.3 190.1h0M502.3 96.4h0M540.2 89.8h0M453.1 202.0h0M511.0 151.4h0M510.4 139.4h0M451.2 202.2h0M488.3 128.7h0M476.4 172.1h0M503.5 155.4h0M494.5 183.6h0M560.5 84.5h0M470.9 202.0h0M482.1 163.6h0M523.0 128.7h0M468.0 153.9h0M504.2 142.8h0M476.2 160.9h0M538.3 94.0h0M523.6 121.8h0M482.5 151.9h0M509.6 147.6h0M497.3 175.2h0M463.1 187.3h0M526.1 118.4h0M483.5 164.3h0M501.5 162.6h0M512.2 148.3h0M497.6 157.7h0M467.3 213.3h0M474.9 177.7h0M536.5 111.2h0M537.9 104.4h0M530.3 90.2h0M545.4 103.2h0M511.8 155.4h0M488.0 134.6h0M479.0 158.2h0M499.5 120.5h0M512.2 131.6h0M508.9 95.8h0M501.3 153.3h0M485.1 122.2h0M491.9 128.7h0M554.7 83.0h0M491.6 165.0h0M478.6 192.4h0M493.6 152.4h0M497.0 170.5h0M487.0 170.1h0M551.8 81.5h0M492.9 132.6h0M489.0 180.4h0M520.4 92.8h0M516.5 106.2h0M460.7 190.7h0M500.6 99.0h0M476.2 197.2h0M531.7 99.2h0M464.6 171.5h0M474.5 151.5h0M502.5 124.8h0M493.6 175.9h0M475.2 150.8h0M486.6 160.7h0M449.6 203.9h0M503.2 114.7h0M544.9 85.9h0M500.2 102.5h0M499.9 119.5h0M540.5 116.7h0M484.7 121.9h0M535.4 113.3h0M521.3 143.1h0M479.5 160.6h0M528.5 127.7h0M507.3 136.0h0M478.4 201.3h0M498.8 153.6h0M511.4 104.0h0M530.1 91.3h0M503.2 112.9h0M531.9 131.0h0" stroke="#6A2DB5" stroke-width="5.1" stroke-linecap="round" fill="none"/>
<path d="M512.0 109.4h0M501.5 164.4h0M498.7 159.5h0M538.2 93.0h0M472.4 205.1h0M529.0 123.3h0M479.0 160.3h0M532.2 71.7h0M543.5 86.7h0M517.2 151.5h0M511.0 137.6h0M480.9 177.5h0M478.8 200.2h0M520.8 98.3h0M462.4 199.0h0M500.2 161.1h0M459.8 186.1h0M547.3 93.0h0M519.1 115.0h0M501.3 153.4h0M481.9 152.5h0M531.6 97.7h0M528.2 94.8h0M544.1 101.8h0M474.7 207.8h0M530.5 131.5h0M517.1 101.9h0M491.4 184.8h0M495.7 89.7h0M541.2 95.7h0M503.5 163.3h0M548.8 87.4h0M476.0 161.0h0M498.9 133.8h0M494.2 134.0h0M494.6 126.6h0M550.1 95.7h0M534.0 109.3h0M492.7 169.8h0M518.9 107.7h0M514.8 98.6h0M528.9 129.8h0M536.7 107.7h0M486.5 155.7h0M522.3 122.0h0M459.7 189.3h0M527.3 129.1h0M477.6 156.0h0M545.0 109.4h0M542.5 95.1h0M528.4 125.2h0M492.7 143.9h0M525.5 84.5h0M462.8 173.5h0M529.4 128.2h0M529.4 115.2h0M537.1 108.8h0M499.8 150.3h0M524.8 119.5h0M492.2 178.4h0M532.5 125.3h0M517.2 92.3h0M534.0 117.0h0M537.6 117.8h0M543.4 107.2h0M532.3 91.6h0M470.1 193.4h0M536.8 75.1h0M506.6 126.4h0M530.3 86.3h0M473.2 163.4h0M450.8 200.5h0M470.1 183.4h0M472.2 207.2h0M544.4 107.4h0M529.5 99.0h0M501.2 110.3h0M479.1 148.2h0M520.8 130.7h0M527.3 113.2h0M494.4 124.0h0M495.9 171.4h0M499.3 149.0h0" stroke="#6A2DB5" stroke-width="5.1" stroke-linecap="round" fill="none"/>
<path d="M514.1 95.7h0M495.3 164.7h0M507.7 87.8h0M523.2 89.3h0M499.4 176.2h0M539.6 115.0h0M491.0 102.8h0M538.0 87.4h0M508.1 135.7h0M491.0 175.8h0M513.5 154.1h0M466.8 194.5h0M484.3 164.8h0M499.3 100.9h0M508.8 144.8h0M463.4 215.9h0M551.0 61.1h0M499.9 90.1h0M523.7 126.5h0M525.5 66.2h0M521.8 53.5h0M524.5 136.8h0M499.7 113.7h0M482.5 155.8h0M505.0 80.8h0M534.8 120.5h0M523.3 119.0h0M463.1 179.9h0M505.5 138.7h0M451.7 195.5h0M497.0 115.0h0M467.6 149.1h0M497.0 88.8h0M480.0 180.8h0M484.0 128.6h0M508.5 103.4h0M535.4 19.1h0M504.1 159.4h0M468.0 203.3h0M474.2 175.0h0M485.9 123.6h0M503.1 87.6h0M492.9 150.8h0M496.6 154.4h0M483.5 181.3h0M470.3 192.6h0M540.2 77.7h0M485.4 151.2h0M477.4 206.6h0M522.6 69.9h0M517.1 104.0h0M465.2 180.9h0M519.7 106.6h0M467.0 210.6h0M469.4 208.9h0M466.3 209.2h0M489.7 100.3h0M513.4 75.4h0M459.6 218.2h0M499.2 161.2h0M536.0 117.0h0M517.4 119.9h0M492.8 150.7h0M467.1 159.0h0M551.0 37.7h0M540.8 22.4h0M499.7 162.1h0M518.0 66.4h0M502.4 112.5h0M485.1 158.5h0M546.1 98.9h0M489.6 165.5h0M478.9 192.5h0M515.7 145.8h0M515.6 104.0h0M504.1 153.6h0M468.8 201.6h0" stroke="#E65C05" stroke-width="5.1" stroke-linecap="round" fill="none"/>
<path d="M520.4 135.2h0M528.4 31.9h0M477.0 169.5h0M523.6 125.3h0M479.3 155.0h0M464.8 199.2h0M537.4 12.9h0M545.9 45.0h0M551.4 90.3h0M464.3 207.4h0M559.3 83.0h0M502.5 151.9h0M496.7 161.8h0M464.5 194.8h0M497.5 177.6h0M470.1 170.1h0M520.3 104.1h0M476.3 169.4h0M509.3 93.3h0M509.5 130.1h0M481.5 148.8h0M531.2 106.3h0M472.6 172.5h0M518.1 121.5h0M498.5 77.2h0M512.8 106.1h0M496.9 165.8h0M494.6 107.3h0M498.6 98.7h0M483.9 178.8h0M492.6 167.6h0M509.7 153.5h0M528.7 95.4h0M503.8 103.1h0M464.8 185.1h0M528.0 77.3h0M487.7 180.3h0M548.8 72.8h0M495.4 132.2h0M462.3 196.4h0M512.0 96.2h0M500.9 153.5h0M501.4 90.4h0M502.4 154.8h0M477.9 204.9h0M530.7 113.2h0M480.7 193.7h0M533.7 86.0h0M461.2 193.6h0M515.3 80.1h0M460.0 205.9h0M496.3 155.9h0M525.2 88.1h0M479.3 188.6h0M543.9 84.5h0M490.4 177.1h0M494.8 172.6h0M507.3 87.7h0M486.2 134.7h0M497.3 144.5h0M514.7 67.7h0M498.8 116.0h0M472.2 157.2h0M507.7 104.7h0M496.5 156.1h0M479.1 131.8h0M509.1 120.7h0M546.3 96.8h0M510.9 76.4h0M494.0 119.6h0M505.4 90.9h0" stroke="#E65C05" stroke-width="5.1" stroke-linecap="round" fill="none"/>
<path d="M502.4 150.9h0M530.3 102.4h0M525.8 109.7h0M459.9 204.4h0M510.3 130.9h0M517.1 110.4h0M522.6 105.4h0M480.3 132.4h0M466.1 165.4h0M519.8 138.2h0M537.3 113.3h0M529.2 112.7h0M534.6 104.7h0M505.9 153.6h0M521.6 131.7h0M473.6 153.2h0M519.1 116.3h0M499.5 94.5h0M540.3 92.7h0M497.4 113.2h0M473.6 198.5h0M459.8 210.5h0M502.9 146.3h0M490.0 155.3h0M521.6 95.1h0M486.5 153.2h0M506.6 167.2h0M547.1 103.3h0M504.4 101.6h0M512.5 112.9h0M486.5 182.6h0M521.4 117.2h0M517.2 96.6h0M530.5 87.4h0M507.7 126.5h0M507.8 152.7h0M523.1 122.6h0M539.0 87.9h0M506.5 170.8h0M500.6 107.6h0M513.0 157.3h0M546.5 103.8h0M518.0 130.1h0M502.0 111.8h0M517.7 118.0h0M485.4 160.1h0M523.7 130.7h0M518.6 124.1h0M536.5 99.9h0M538.1 90.0h0M524.6 137.1h0M526.1 96.7h0M491.9 117.9h0M506.4 93.2h0M462.9 179.6h0M523.4 125.5h0M451.3 197.3h0M501.2 96.1h0M462.9 216.0h0M526.0 135.6h0M541.4 94.5h0M490.8 181.8h0M537.8 86.6h0M472.1 160.9h0M499.4 119.4h0M515.3 128.6h0M513.7 115.3h0M521.0 93.4h0M546.7 94.3h0M503.6 154.5h0M493.8 158.2h0M501.1 163.6h0M523.4 116.6h0M542.9 70.0h0M512.5 86.1h0M476.7 180.9h0M540.7 107.2h0M523.5 126.7h0M521.6 87.1h0M471.4 167.8h0M520.1 114.7h0M527.7 85.9h0M502.4 97.3h0M537.8 95.8h0" stroke="#6A2DB5" stroke-width="5.1" stroke-linecap="round" fill="none"/>
<path d="M505.0 88.8h0M550.8 93.4h0M518.5 109.7h0M486.0 124.6h0M504.5 153.3h0M473.0 198.6h0M499.3 169.6h0M508.4 154.1h0M487.0 154.3h0M481.9 160.8h0M468.8 210.2h0M494.0 178.2h0M512.7 133.7h0M520.2 117.6h0M552.6 88.1h0M514.9 103.6h0M508.5 93.2h0M510.0 156.6h0M524.1 128.0h0M461.9 211.2h0M508.2 149.8h0M486.2 139.0h0M476.2 168.4h0M477.5 161.9h0M530.1 109.5h0M517.6 128.8h0M526.2 102.3h0M494.9 132.0h0M511.0 108.2h0M475.7 168.2h0M474.6 153.3h0M539.0 103.1h0M514.2 116.8h0M510.7 106.9h0M493.9 137.2h0M465.3 166.6h0M511.1 117.1h0M488.9 160.3h0M490.8 119.5h0M504.3 117.1h0M470.1 161.8h0M498.1 130.5h0M467.3 190.4h0M480.1 203.1h0M488.5 159.2h0M495.3 112.3h0M461.5 202.1h0M464.1 211.9h0M498.1 153.8h0M477.0 173.5h0M522.1 108.5h0M536.1 90.3h0M472.8 152.1h0M461.4 176.3h0M512.4 151.5h0M556.4 75.2h0M537.3 117.0h0M494.0 167.5h0M461.0 189.6h0M460.2 205.4h0M536.7 96.2h0M498.7 124.5h0M469.1 177.6h0M491.5 154.9h0M498.9 153.8h0M491.7 179.4h0M519.4 90.1h0M526.2 129.2h0M515.7 135.0h0M525.7 102.7h0M529.5 124.1h0M502.6 133.2h0M506.5 165.6h0M542.0 101.6h0M497.6 107.5h0M483.5 195.8h0M503.8 152.3h0M519.2 140.0h0M514.6 102.6h0M499.8 108.6h0M517.5 124.1h0M487.9 115.9h0M486.7 188.9h0M501.6 119.7h0" stroke="#6A2DB5" stroke-width="5.1" stroke-linecap="round" fill="none"/>
<path d="M547.4 78.3h0M468.9 199.8h0M518.4 102.5h0M496.6 171.1h0M487.5 123.1h0M490.2 184.0h0M530.4 111.4h0M474.0 164.4h0M542.3 59.6h0M498.0 148.1h0M510.2 152.1h0M464.7 214.9h0M558.9 85.4h0M469.6 171.7h0M484.7 176.4h0M515.9 132.7h0M501.0 161.3h0M485.8 159.6h0M504.3 128.3h0M515.8 101.5h0M524.5 87.9h0M519.6 86.7h0M545.9 64.7h0M467.7 202.1h0M521.6 98.0h0M506.0 157.8h0M523.0 94.0h0M499.8 91.6h0M498.4 101.0h0M514.9 151.3h0M517.3 105.6h0M518.5 135.6h0M499.6 129.8h0M503.8 159.4h0M498.4 145.5h0M490.4 112.0h0M498.7 158.1h0M497.9 127.6h0M509.4 69.9h0M510.7 119.9h0M465.2 188.8h0M478.8 186.1h0M523.8 128.0h0M494.7 159.3h0M493.6 129.0h0M484.8 132.9h0M540.9 114.1h0M513.8 95.7h0M501.0 95.5h0M510.2 144.4h0M514.6 113.6h0M513.8 129.7h0M453.3 196.9h0M523.8 70.7h0M512.6 111.1h0M525.2 81.6h0M493.9 100.4h0M489.5 132.4h0M494.2 155.7h0M496.3 160.0h0M543.0 42.8h0M518.2 122.1h0M546.4 91.2h0M482.9 162.9h0" stroke="#E65C05" stroke-width="5.1" stroke-linecap="round" fill="none"/>
<path d="M485.3 168.0h0M537.4 20.5h0M502.8 113.9h0M471.0 205.1h0M484.7 199.4h0M524.1 93.7h0M520.4 82.7h0M543.0 72.8h0M520.4 67.1h0M527.7 134.0h0M485.7 159.2h0M503.6 82.3h0M474.9 203.1h0M496.9 161.2h0M502.6 168.6h0M475.6 153.9h0M499.3 93.0h0M489.4 132.1h0M531.3 78.6h0M559.1 87.1h0M489.5 142.8h0M515.8 76.7h0M525.9 128.7h0M528.7 119.2h0M496.5 145.9h0M508.5 162.3h0M512.2 90.0h0M535.7 81.5h0M467.4 157.2h0M519.9 80.6h0M477.1 157.4h0M493.5 144.5h0M554.6 86.3h0M511.7 144.6h0M517.4 90.1h0M484.3 166.9h0M494.5 152.1h0M480.7 157.4h0M535.7 97.5h0M541.0 104.5h0M499.8 144.2h0M545.9 78.6h0M499.0 148.7h0M486.0 151.0h0M539.4 88.4h0M498.7 159.1h0M490.0 157.4h0M528.2 93.9h0M527.7 66.2h0M525.0 83.0h0M508.7 76.4h0M491.1 152.9h0M557.6 85.3h0M486.0 183.7h0M538.8 95.1h0M540.1 106.4h0M502.8 126.7h0M493.3 181.4h0M513.9 92.3h0M514.5 97.0h0M487.5 185.9h0M463.0 217.1h0M483.9 162.9h0M492.3 154.9h0M511.8 151.6h0M519.6 144.5h0M496.9 117.2h0M501.0 159.7h0M549.1 94.1h0M511.3 156.2h0M507.0 153.4h0M558.0 84.8h0M518.2 81.5h0M492.1 103.3h0M486.2 183.6h0M518.2 60.4h0" stroke="#E65C05" stroke-width="5.1" stroke-linecap="round" fill="none"/>
<path d="M537.6 116.3h0M487.8 157.9h0M505.0 127.5h0M511.1 154.1h0M489.9 157.9h0M508.6 143.3h0M539.8 111.2h0M508.5 153.9h0M507.4 93.8h0M460.7 210.4h0M483.1 194.0h0M526.8 126.6h0M544.0 111.7h0M488.4 122.9h0M507.3 161.2h0M469.8 187.4h0M513.1 101.0h0M540.8 69.9h0M469.6 180.6h0M483.6 123.7h0M476.0 196.6h0M527.2 106.2h0M507.7 162.5h0M506.9 133.8h0M557.4 81.0h0M498.3 156.2h0M523.5 123.3h0M472.0 179.5h0M463.7 204.9h0M504.8 160.9h0M498.5 180.7h0M521.0 87.4h0M505.8 85.9h0M520.3 134.5h0M505.4 158.4h0M471.3 195.7h0M500.6 123.7h0M549.2 91.7h0M526.5 119.0h0M513.1 129.2h0M513.8 79.5h0M530.5 67.9h0M465.7 187.5h0M517.2 136.4h0M493.6 129.7h0M528.2 125.1h0M549.0 93.2h0M540.4 86.9h0M484.8 178.1h0M478.3 141.1h0M525.1 126.3h0M498.1 141.1h0M541.8 87.2h0M485.7 162.9h0M541.2 99.0h0M547.6 96.3h0M536.7 110.9h0M531.3 77.2h0M466.6 173.9h0M521.0 90.3h0M477.9 133.3h0M519.0 94.2h0M510.9 142.4h0M519.8 133.7h0M512.6 108.7h0M539.0 110.0h0M502.2 122.7h0M491.5 151.4h0M539.3 117.6h0M461.1 216.9h0M526.5 106.7h0M542.7 110.4h0M542.1 87.6h0M488.0 194.3h0M542.9 90.3h0M489.9 119.6h0" stroke="#6A2DB5" stroke-width="5.1" stroke-linecap="round" fill="none"/>
<path d="M534.7 102.0h0M494.8 161.1h0M506.5 139.7h0M501.0 161.2h0M503.0 108.8h0M508.0 138.0h0M514.9 104.2h0M512.0 127.8h0M491.3 108.7h0M538.6 69.9h0M481.4 156.1h0M481.9 147.4h0M475.5 160.8h0M517.2 111.2h0M513.9 108.7h0M487.9 185.0h0M521.0 100.6h0M512.3 148.7h0M511.6 129.2h0M511.3 155.5h0M469.2 189.6h0M530.5 104.6h0M517.9 141.6h0M509.3 146.3h0M476.7 153.5h0M513.9 92.9h0M504.2 138.6h0M484.2 142.9h0M532.1 104.7h0M532.8 79.3h0M514.3 105.3h0M465.6 173.2h0M510.1 90.3h0M500.6 160.7h0M544.0 93.6h0M498.3 147.9h0M524.2 91.6h0M483.4 192.7h0M477.3 150.6h0M508.8 155.0h0M496.5 149.7h0M531.3 108.4h0M529.9 134.3h0M536.0 121.5h0M545.7 102.4h0M509.1 146.0h0M509.8 142.7h0M514.1 126.3h0M479.4 160.7h0M466.0 199.1h0M469.7 200.0h0M506.1 140.3h0M520.8 133.5h0M484.7 158.5h0M533.2 117.1h0M492.6 136.9h0M506.1 157.5h0M515.8 92.1h0M508.9 163.4h0M517.7 91.7h0M507.7 127.7h0M536.4 72.8h0M516.0 141.3h0M470.7 202.9h0M509.9 149.2h0M539.3 76.3h0M480.4 130.2h0M512.3 125.6h0M486.6 137.8h0M520.4 90.1h0M528.2 115.3h0M530.0 90.3h0M516.1 152.9h0M479.4 155.4h0M491.3 116.0h0M480.0 190.4h0M532.7 96.9h0M507.6 124.4h0" stroke="#6A2DB5" stroke-width="5.1" stroke-linecap="round" fill="none"/>
<path d="M528.1 112.7h0M461.7 200.9h0M553.2 60.4h0M535.3 97.3h0M472.3 178.7h0M475.7 131.2h0M532.0 27.2h0M512.3 154.4h0M490.8 125.2h0M468.2 198.4h0M496.3 88.6h0M537.1 93.1h0M489.1 155.8h0M494.6 178.9h0M492.8 163.8h0M479.1 179.0h0M539.7 93.4h0M525.5 40.7h0M495.8 159.3h0M480.4 206.3h0M517.2 82.6h0M463.8 208.8h0M484.7 159.2h0M526.7 86.1h0M498.6 153.6h0M529.4 71.0h0M466.4 192.2h0M472.8 184.1h0M517.2 97.5h0M483.4 165.5h0M504.0 156.9h0M532.8 118.4h0M493.7 100.8h0M507.6 102.5h0M478.6 135.8h0M507.8 110.2h0M491.7 131.4h0M533.6 83.8h0M479.8 159.5h0M533.7 89.7h0M474.3 200.3h0M487.1 197.1h0M545.8 90.4h0M500.9 104.7h0M488.3 174.1h0M513.8 72.0h0M476.7 158.4h0M472.0 168.5h0M480.7 151.2h0M526.9 33.4h0M501.3 165.2h0M529.3 66.0h0M498.3 151.4h0" stroke="#E65C05" stroke-width="5.1" stroke-linecap="round" fill="none"/>
<path d="M519.2 100.7h0M492.4 118.6h0M470.9 152.0h0M526.1 87.4h0M520.3 93.8h0M523.9 66.5h0M536.4 28.7h0M474.3 191.4h0M519.9 74.3h0M502.8 92.7h0M475.0 151.6h0M499.2 74.2h0M520.2 85.8h0M489.3 105.8h0M472.0 154.9h0M501.1 154.9h0M490.7 168.5h0M502.5 163.9h0M483.6 115.9h0M510.1 139.3h0M465.3 177.3h0M540.5 110.3h0M520.6 117.7h0M527.1 110.6h0M553.2 42.8h0M479.9 192.9h0M494.1 182.4h0M540.1 84.5h0M503.9 113.0h0M505.0 107.7h0M474.2 207.5h0M516.1 142.7h0M499.5 91.9h0M497.7 155.1h0M487.3 174.0h0M499.6 179.5h0M471.0 177.5h0M506.5 43.3h0M494.9 131.8h0M500.7 65.2h0M554.4 90.1h0M489.0 125.0h0M502.1 155.5h0M504.7 107.5h0M546.1 87.8h0M475.6 163.1h0M547.4 48.0h0M538.4 115.6h0M502.0 161.1h0M484.6 194.9h0M488.2 188.9h0M532.9 121.9h0M496.6 123.2h0M495.0 123.7h0M485.3 154.7h0M519.8 134.8h0M499.2 116.7h0M472.5 160.4h0M504.3 50.9h0M463.7 209.0h0M517.8 106.0h0M540.5 116.7h0M520.7 100.4h0M551.8 65.5h0M505.1 128.0h0M499.2 112.5h0M537.2 86.4h0M526.3 79.6h0M528.8 74.1h0M504.5 113.6h0M492.1 175.5h0M463.5 209.8h0" stroke="#E65C05" stroke-width="5.1" stroke-linecap="round" fill="none"/>
<path d="M511.9 132.8h0M471.3 157.2h0M479.7 157.9h0M551.2 95.3h0M529.1 77.8h0M512.8 143.0h0M461.4 181.4h0M495.1 131.7h0M465.0 186.3h0M528.2 131.6h0M515.1 87.5h0M490.3 139.4h0M496.7 168.5h0M525.6 111.7h0M518.0 102.2h0M467.8 162.4h0M534.1 86.0h0M486.5 182.3h0M478.3 161.3h0M529.4 112.1h0M512.3 90.4h0M537.9 115.6h0M496.8 153.3h0M547.1 102.7h0M517.5 110.6h0M541.7 93.6h0M487.9 138.3h0M511.6 124.6h0M477.0 175.2h0M526.7 88.7h0M504.1 138.0h0M484.0 152.9h0M520.2 128.0h0M462.6 207.8h0M485.5 158.7h0M532.8 84.2h0M492.6 166.5h0M524.6 115.8h0M512.3 113.3h0M496.3 103.3h0M468.8 163.6h0M521.9 134.5h0M506.1 108.5h0M467.7 193.3h0M468.8 173.1h0M469.0 210.8h0M484.3 152.9h0M480.6 152.6h0M549.0 102.6h0M475.8 200.0h0M468.2 182.6h0M526.7 115.6h0M496.7 111.9h0M521.0 87.8h0M527.9 113.6h0M544.7 83.2h0M494.7 104.3h0M521.5 129.7h0M517.1 107.1h0M452.4 201.8h0M510.0 163.4h0M491.5 190.5h0M473.0 178.4h0M503.7 149.0h0M500.1 162.0h0M489.0 182.9h0M504.9 163.2h0" stroke="#6A2DB5" stroke-width="5.1" stroke-linecap="round" fill="none"/>
<path d="M493.4 135.5h0M492.1 121.6h0M501.4 103.9h0M547.0 97.0h0M520.0 87.5h0M540.1 117.2h0M467.6 177.7h0M468.6 198.9h0M513.5 85.6h0M516.7 152.2h0M553.6 86.5h0M480.8 159.4h0M515.9 100.0h0M539.6 111.2h0M521.0 85.7h0M530.1 110.7h0M515.7 103.1h0M499.3 158.2h0M472.4 151.3h0M557.6 81.5h0M534.4 105.9h0M465.1 200.0h0M511.5 72.5h0M530.1 111.6h0M500.8 149.9h0M483.7 163.1h0M478.9 153.8h0M508.7 119.9h0M500.1 104.6h0M467.2 172.9h0M507.3 114.3h0M524.3 129.1h0M483.8 195.9h0M498.7 107.8h0M495.9 112.4h0M514.2 108.2h0M509.9 94.3h0M547.6 95.3h0M509.2 111.8h0M484.6 130.7h0M468.9 160.6h0M541.6 92.4h0M463.5 210.1h0M523.3 113.9h0M496.6 154.0h0M514.5 150.7h0M494.8 179.2h0M460.6 180.5h0M486.8 138.7h0M522.7 142.2h0M492.3 158.6h0M556.6 90.2h0M472.2 209.2h0M507.7 130.2h0M504.5 143.4h0M522.2 112.4h0M510.4 145.7h0M475.8 180.8h0M523.7 93.1h0M511.5 155.3h0M559.3 84.6h0M496.2 157.2h0M488.1 163.4h0M499.6 108.9h0M508.6 99.9h0M461.0 190.9h0M486.2 186.8h0M508.9 137.4h0M556.1 76.4h0M475.5 193.0h0M526.9 78.7h0M484.3 190.1h0M505.1 163.7h0M517.4 139.6h0M486.3 162.4h0M493.8 158.9h0M468.9 156.1h0M524.5 86.0h0M482.2 174.3h0M507.8 113.8h0M495.3 181.1h0M472.0 152.0h0M525.8 120.5h0M500.9 172.4h0M516.8 90.1h0M535.5 111.7h0M494.4 175.1h0M527.9 130.3h0M511.8 109.7h0" stroke="#6A2DB5" stroke-width="5.1" stroke-linecap="round" fill="none"/>
<path d="M486.2 111.5h0M484.7 138.8h0M527.8 110.6h0M488.9 160.1h0M470.1 177.2h0M562.0 46.5h0M562.0 33.1h0M505.7 99.2h0M466.3 185.0h0M485.1 146.9h0M509.7 136.0h0M506.8 93.9h0M474.5 162.8h0M491.3 183.9h0M537.4 90.9h0M470.0 164.2h0M497.3 182.9h0M464.3 190.3h0M516.7 62.6h0M541.5 50.9h0M497.4 165.7h0M513.1 98.9h0M494.5 108.8h0M529.9 47.2h0M508.3 163.0h0M509.5 131.2h0M481.5 198.9h0M551.3 89.8h0M513.8 85.9h0M482.0 136.6h0M547.6 93.7h0M528.4 127.1h0M453.0 192.5h0M556.9 41.4h0M465.3 203.8h0M504.0 156.4h0M542.6 88.8h0M523.7 93.7h0M506.6 154.2h0M492.4 119.2h0M496.9 104.8h0M497.9 121.9h0M495.5 104.2h0M517.1 125.2h0M471.9 211.0h0M494.1 146.6h0M513.4 91.0h0M516.7 72.8h0M492.5 113.1h0M534.0 128.1h0M541.5 68.4h0M519.6 87.0h0M532.8 57.4h0M541.4 115.4h0M510.2 159.3h0M499.3 168.3h0M473.5 191.0h0M534.2 56.7h0M511.8 123.3h0M512.9 116.0h0M517.3 86.1h0M512.1 90.6h0M479.7 158.0h0M501.1 146.3h0M506.1 100.9h0M491.6 188.9h0M460.7 206.3h0M512.0 104.9h0M549.5 87.7h0M531.3 45.0h0M544.5 52.3h0M477.4 163.3h0M479.8 156.9h0M471.0 180.3h0M511.4 106.1h0" stroke="#E65C05" stroke-width="5.1" stroke-linecap="round" fill="none"/>
<line x1="362.9" y1="257.7" x2="647.1" y2="9.0" stroke="#000" stroke-width="1.8"/>
<polygon points="524.55,93.90 527.33,100.58 534.54,101.16 529.05,105.86 530.72,112.90 524.55,109.13 518.38,112.90 520.06,105.86 514.57,101.16 521.78,100.58" fill="#F4E514" stroke="#E2261F" stroke-width="1.9" stroke-linejoin="miter"/>
<rect x="362.9" y="9.0" width="284.2" height="248.7" fill="none" stroke="#383838" stroke-width="1.6"/>
<path d="M419.7 257.7v-3M419.7 9.0v3M362.9 208.0h3M647.1 208.0h-3M476.6 257.7v-3M476.6 9.0v3M362.9 158.2h3M647.1 158.2h-3M533.4 257.7v-3M533.4 9.0v3M362.9 108.5h3M647.1 108.5h-3M590.3 257.7v-3M590.3 9.0v3M362.9 58.7h3M647.1 58.7h-3" stroke="#383838" stroke-width="1.5" fill="none"/>
<text x="362.1" y="277.6" text-anchor="middle" class="tk">0</text>
<text x="418.9" y="277.6" text-anchor="middle" class="tk">0.5</text>
<text x="475.8" y="277.6" text-anchor="middle" class="tk">1</text>
<text x="532.6" y="277.6" text-anchor="middle" class="tk">1.5</text>
<text x="589.5" y="277.6" text-anchor="middle" class="tk">2</text>
<text x="646.3" y="277.6" text-anchor="middle" class="tk">2.5</text>
<text x="376.2" y="43.2" class="pl">b</text>
<text x="391.4" y="69.8" class="r2">R</text><text x="405.3" y="60.2" class="r2" style="font-size:12.5px">2</text><text x="413.8" y="69.8" class="r2">=0.55</text>
<g class="lab"><text x="393.6" y="304.0" font-size="19.5" textLength="7.3" lengthAdjust="spacingAndGlyphs">2</text><text x="425.8" y="304.0" font-size="19.5" textLength="30.6" lengthAdjust="spacingAndGlyphs">0.01</text><text x="468.8" y="309.2" font-size="13" font-style="italic" textLength="11.0" lengthAdjust="spacingAndGlyphs">ss</text><text x="485.1" y="304.0" font-size="19.5" font-style="italic" textLength="13.9" lengthAdjust="spacingAndGlyphs">E</text><text x="499.3" y="298.4" font-size="13" textLength="20.1" lengthAdjust="spacingAndGlyphs">0.50</text><text x="521.1" y="304.0" font-size="19.5" font-style="italic">df</text><text x="540.1" y="304.0" font-size="19.5" font-style="italic">f</text><text x="549.8" y="298.4" font-size="13" textLength="30.7" lengthAdjust="spacingAndGlyphs">&#8722;2.00</text><text x="589.7" y="304.0" font-size="19.5" textLength="26.3" lengthAdjust="spacingAndGlyphs">(m)</text></g>
<path d="M409.6 302.5L412.2 299.8L415.8 315.5L426.1 283.0H581.9" fill="none" stroke="#262626" stroke-width="1.2"/>
<path d="M412.2 299.8L415.8 315.5" stroke="#262626" stroke-width="2.2"/>
<path d="M468.1 292.8c-0.8-1.6-3-1.4-3.3 0.8L463.4 307.6c-0.3 2.2-2.5 2.4-3.3 0.8" fill="none" stroke="#262626" stroke-width="1.3"/>
</g><g>
<path d="M184.4 424.8h0M210.6 432.5h0M192.5 413.5h0M211.1 397.3h0M190.1 416.6h0M199.3 448.3h0M203.5 484.5h0M223.0 368.6h0M184.4 490.3h0M201.2 376.1h0M212.5 395.5h0M219.2 440.1h0M193.7 416.0h0M167.4 492.0h0M174.0 511.7h0M206.8 404.8h0M220.7 423.6h0M200.7 424.2h0M177.2 467.7h0M191.9 448.3h0M173.7 482.7h0M201.7 388.7h0M158.2 515.1h0M210.1 416.9h0M201.9 390.2h0M221.1 384.8h0M233.7 408.1h0M166.8 477.0h0M183.1 466.1h0M168.3 475.1h0M196.6 442.8h0M192.2 460.1h0M206.6 414.4h0M208.4 457.3h0M204.6 419.1h0M165.1 484.3h0M193.6 484.3h0M207.5 421.4h0M225.5 354.3h0M224.3 434.0h0M184.3 473.1h0M193.2 422.2h0M201.8 483.1h0M178.2 463.8h0M226.1 423.2h0M146.4 537.2h0M178.7 509.7h0M193.3 457.0h0M184.0 448.7h0M157.9 508.5h0M168.1 477.6h0M150.9 528.8h0M217.4 399.8h0M178.4 458.4h0M189.9 455.9h0M224.2 409.8h0" stroke="#E65C05" stroke-width="5.1" stroke-linecap="round" fill="none"/>
<path d="M168.3 505.9h0M181.7 485.5h0M226.3 439.9h0M218.7 425.4h0M198.4 445.4h0M159.2 510.8h0M212.6 454.1h0M181.4 504.1h0M232.5 418.0h0M213.2 426.2h0M180.0 489.7h0M202.7 462.4h0M214.7 434.4h0M206.4 429.3h0M204.5 434.1h0M168.4 481.2h0M190.7 485.8h0M181.0 483.2h0M211.3 429.3h0M222.3 401.0h0M178.0 454.7h0M205.7 387.0h0M150.1 543.9h0M220.1 411.0h0M169.9 486.5h0M186.9 449.4h0M165.4 527.4h0M215.3 462.1h0M163.2 505.3h0M219.3 417.0h0M177.6 503.2h0M220.6 416.8h0M221.7 445.6h0M211.0 465.8h0M231.8 411.8h0M181.6 445.0h0M224.5 416.1h0M160.7 533.9h0M189.8 480.9h0M154.6 526.6h0M217.9 424.4h0M202.4 409.8h0M181.8 494.3h0M188.5 427.3h0M201.9 441.4h0M228.4 410.9h0" stroke="#6A2DB5" stroke-width="5.1" stroke-linecap="round" fill="none"/>
<path d="M204.7 481.2h0M204.0 449.9h0M159.9 506.3h0M199.1 444.4h0M222.0 453.5h0M172.8 491.1h0M219.4 413.3h0M172.1 490.3h0M224.7 451.3h0M207.1 462.6h0M155.2 526.0h0M204.9 453.8h0M220.6 424.0h0M202.4 484.6h0M204.1 470.6h0M205.8 476.5h0M197.5 490.6h0M183.8 485.5h0M206.3 401.3h0M226.9 446.0h0M187.4 484.0h0M217.3 459.3h0M200.4 427.2h0M217.1 422.3h0M165.8 517.2h0M204.1 481.5h0M202.7 453.1h0M178.5 484.8h0M167.3 527.9h0M213.9 426.1h0M191.2 484.6h0M215.1 410.9h0M155.2 510.4h0M199.6 475.0h0M209.1 440.2h0M184.3 426.4h0M192.3 494.9h0M184.6 492.0h0M209.0 444.3h0M182.3 497.0h0M183.5 481.6h0M190.5 442.8h0M182.5 474.5h0M165.7 496.9h0M162.6 526.1h0" stroke="#6A2DB5" stroke-width="5.1" stroke-linecap="round" fill="none"/>
<path d="M184.7 430.5h0M229.8 363.7h0M227.3 393.6h0M186.3 430.8h0M227.9 427.9h0M217.4 368.0h0M209.9 393.6h0M190.6 420.4h0M212.2 467.8h0M188.6 422.7h0M167.9 519.2h0M168.9 488.7h0M217.1 452.6h0M214.9 365.5h0M188.7 453.4h0M198.7 423.8h0M186.0 424.1h0M196.2 402.9h0M181.7 487.1h0M189.7 431.1h0M154.1 511.8h0M175.4 470.0h0M208.1 397.5h0M211.0 436.1h0M148.9 537.3h0M201.7 478.3h0M207.9 390.1h0M164.2 495.5h0M194.7 445.5h0M188.2 449.6h0M158.1 509.3h0M213.6 411.6h0M155.9 509.9h0M205.6 395.6h0M186.4 434.4h0M198.8 481.6h0M224.4 429.2h0M187.6 433.7h0M223.6 393.6h0M184.0 440.8h0M150.3 528.6h0M149.2 541.1h0M199.8 408.1h0M183.4 461.2h0M168.3 482.6h0M147.9 537.8h0M202.5 414.2h0M226.7 372.4h0M164.5 496.1h0M189.4 472.9h0M178.7 493.9h0M160.8 502.6h0" stroke="#E65C05" stroke-width="5.1" stroke-linecap="round" fill="none"/>
<path d="M197.9 419.4h0M178.9 453.7h0M195.1 445.9h0M166.6 476.2h0M178.0 506.2h0M179.3 499.0h0M204.5 481.3h0M197.2 406.8h0M153.6 514.4h0M183.6 440.9h0M190.6 490.1h0M228.6 414.7h0M179.2 452.9h0M229.6 410.1h0M178.2 478.3h0M156.0 511.8h0M168.2 488.8h0M211.0 408.5h0M169.2 482.3h0M200.1 417.6h0M193.8 472.6h0M182.0 494.9h0M186.2 433.1h0M169.1 496.3h0M192.9 434.3h0M184.2 487.8h0M189.6 475.3h0M206.5 448.5h0M202.2 422.8h0M170.3 522.3h0M217.9 432.7h0M168.8 484.3h0M183.4 453.9h0M191.4 458.6h0M192.2 442.8h0M167.3 495.4h0M203.9 438.3h0M194.3 446.8h0M180.7 492.6h0M213.0 379.2h0M183.5 464.5h0M167.2 490.8h0M212.4 436.6h0M189.3 443.7h0M202.4 403.3h0M184.3 432.6h0M177.2 454.5h0M185.4 448.0h0M193.5 437.5h0M217.4 413.4h0M214.0 405.4h0M222.3 353.1h0M160.7 499.1h0M174.0 469.4h0M211.4 418.8h0M189.7 424.7h0M205.2 479.1h0M179.2 450.6h0M209.2 445.4h0M205.1 468.0h0M203.4 412.3h0M151.4 518.0h0M152.3 518.4h0M181.6 454.5h0M206.7 390.8h0M182.4 497.4h0M213.9 451.4h0M188.3 443.8h0M218.5 452.0h0M163.9 483.1h0M180.2 446.9h0M200.4 421.1h0M193.2 420.8h0M171.6 470.6h0M228.2 421.8h0" stroke="#E65C05" stroke-width="5.1" stroke-linecap="round" fill="none"/>
<path d="M194.3 425.3h0M227.8 436.4h0M226.4 442.6h0M196.0 456.5h0M201.6 446.9h0M227.3 396.1h0M181.4 477.9h0M184.2 485.0h0M174.8 499.7h0M208.5 447.5h0M216.1 421.2h0M227.8 439.0h0M183.6 495.7h0M236.0 409.8h0M208.1 473.6h0M230.7 420.6h0M205.1 417.0h0M187.1 490.2h0M210.3 431.0h0M164.7 514.7h0M167.2 489.4h0M185.6 473.5h0M211.6 463.0h0M170.1 521.1h0M152.2 518.4h0M231.1 407.3h0M199.7 453.7h0M169.5 516.0h0M166.3 519.0h0M147.8 545.2h0M172.8 502.1h0M222.0 454.9h0M216.5 439.6h0M157.2 514.7h0M198.2 463.2h0M216.6 454.8h0M163.9 485.9h0M213.5 456.5h0M205.6 420.8h0M207.9 461.6h0M194.6 492.9h0M195.9 477.8h0M185.5 483.0h0M167.5 523.0h0M229.0 407.1h0M151.5 539.0h0M224.9 424.3h0M203.2 441.7h0M199.7 460.4h0M190.2 482.8h0" stroke="#6A2DB5" stroke-width="5.1" stroke-linecap="round" fill="none"/>
<path d="M215.8 457.0h0M201.4 400.0h0M175.5 501.4h0M187.9 443.1h0M184.5 469.0h0M203.5 468.8h0M206.1 391.0h0M224.1 423.3h0M218.7 407.5h0M224.5 448.5h0M161.2 502.1h0M175.1 491.2h0M218.8 455.9h0M205.8 443.1h0M208.1 420.9h0M223.1 428.6h0M213.6 411.0h0M178.8 509.2h0M155.2 520.5h0M229.3 414.3h0M162.0 529.7h0M207.8 442.3h0M201.7 447.4h0M198.3 466.3h0M194.1 471.9h0M224.9 421.3h0M170.7 506.0h0M177.4 511.8h0M173.8 497.4h0M194.9 476.3h0M166.9 521.5h0M154.9 508.7h0M164.1 500.3h0M205.4 448.1h0M217.9 428.4h0M179.1 490.4h0M204.7 474.2h0M194.8 472.1h0M150.1 524.9h0M222.2 441.7h0M148.2 530.2h0M166.0 498.6h0M172.8 514.3h0M236.2 406.9h0M170.9 502.4h0M163.8 501.7h0M179.6 487.1h0M207.2 439.8h0M174.1 492.2h0M215.0 461.8h0M180.9 494.0h0M172.5 512.7h0M173.0 510.8h0M177.8 483.8h0" stroke="#6A2DB5" stroke-width="5.1" stroke-linecap="round" fill="none"/>
<path d="M169.1 482.8h0M195.1 413.7h0M189.2 446.6h0M175.8 513.8h0M149.7 535.2h0M218.0 407.8h0M207.8 408.9h0M198.4 435.8h0M204.9 407.3h0M175.0 482.1h0M191.7 452.4h0M168.6 479.2h0M206.3 481.3h0M193.1 492.8h0M162.7 533.4h0M181.8 461.5h0M197.7 482.1h0M197.5 424.7h0M199.4 452.5h0M200.1 409.9h0M198.5 439.5h0M149.8 535.4h0M176.0 455.7h0M159.5 532.7h0M231.1 398.6h0M157.2 505.6h0M227.7 407.4h0M207.8 409.1h0M161.1 513.2h0M203.8 437.3h0M214.4 424.8h0M187.2 426.5h0M237.3 403.5h0M170.5 483.7h0M221.1 378.0h0M186.2 436.2h0M186.4 444.8h0M157.3 522.7h0M203.2 478.1h0M184.4 478.0h0M218.0 457.9h0M168.3 488.9h0M171.7 504.5h0M173.8 485.5h0M151.0 537.0h0M212.6 428.1h0" stroke="#E65C05" stroke-width="5.1" stroke-linecap="round" fill="none"/>
<path d="M189.4 417.2h0M207.4 398.6h0M219.9 415.3h0M214.5 467.5h0M177.8 494.2h0M229.7 425.8h0M187.9 453.8h0M188.6 420.8h0M194.1 429.1h0M215.1 442.3h0M203.0 368.6h0M204.9 394.2h0M155.3 517.2h0M188.5 445.1h0M169.5 509.9h0M210.1 419.9h0M183.9 447.1h0M148.7 526.7h0M181.4 467.6h0M204.6 410.7h0M214.3 422.9h0M205.3 424.6h0M199.9 477.8h0M177.2 489.5h0M182.3 445.9h0M159.5 529.5h0M212.0 394.5h0M190.8 443.6h0M169.9 482.7h0M206.8 387.3h0M160.2 498.4h0M226.3 339.0h0M182.2 456.9h0M165.7 524.5h0M203.0 473.7h0M185.6 430.8h0M190.0 431.1h0M162.8 481.6h0M225.5 346.8h0M190.3 416.1h0M188.4 467.9h0M208.0 450.9h0M193.9 414.4h0M194.6 444.2h0M191.2 496.1h0M224.3 408.1h0M210.0 407.4h0M201.8 371.8h0M218.9 421.6h0M160.8 531.8h0M201.3 424.2h0M229.0 441.1h0M208.6 385.5h0M203.5 391.2h0M223.0 345.0h0M165.5 508.7h0M196.5 417.0h0M173.7 497.3h0M219.9 409.8h0M183.5 441.9h0M189.1 448.9h0" stroke="#E65C05" stroke-width="5.1" stroke-linecap="round" fill="none"/>
<path d="M195.7 465.3h0M214.3 466.3h0M196.7 475.7h0M171.4 481.4h0M225.2 445.6h0M233.3 409.6h0M176.3 461.3h0M201.3 450.8h0M163.2 502.6h0M196.2 466.6h0M199.1 461.7h0M201.2 484.5h0M202.8 432.8h0M170.6 489.0h0M169.6 499.4h0M186.5 465.9h0M208.7 461.4h0M148.9 535.8h0M201.0 438.3h0M190.1 477.5h0M175.3 494.0h0M212.3 453.5h0M196.9 474.0h0M202.2 420.8h0M205.5 445.7h0M216.1 409.8h0M168.3 483.7h0M195.7 487.1h0M205.9 477.0h0M215.0 450.2h0M200.3 473.7h0M176.3 484.0h0M203.1 389.2h0M158.9 509.1h0M218.3 448.5h0M149.4 543.6h0M182.9 472.5h0M170.0 506.0h0M205.8 456.7h0M219.8 417.0h0M231.0 405.9h0M152.1 538.2h0M223.0 435.2h0M164.5 488.1h0M214.1 443.5h0M170.5 486.5h0M150.2 540.0h0M220.5 443.7h0M171.8 512.1h0M151.5 537.1h0M224.8 413.5h0M178.5 485.0h0M156.1 519.3h0M224.5 442.1h0M170.8 480.3h0M157.9 520.2h0M155.4 515.5h0M208.3 458.0h0" stroke="#6A2DB5" stroke-width="5.1" stroke-linecap="round" fill="none"/>
<path d="M148.6 531.4h0M160.8 523.5h0M187.3 500.6h0M215.7 449.8h0M179.8 501.3h0M154.1 524.6h0M203.0 449.9h0M211.1 469.8h0M159.8 501.1h0M223.4 451.9h0M175.2 487.3h0M169.6 517.0h0M168.0 504.9h0M224.8 398.6h0M153.8 533.5h0M154.9 538.7h0M201.6 456.7h0M198.0 462.3h0M167.0 498.0h0M177.7 499.2h0M171.5 485.4h0M201.8 447.3h0M196.4 462.4h0M221.5 435.3h0M195.6 450.0h0M223.4 415.9h0M152.1 518.0h0M218.9 411.9h0M218.1 458.1h0M193.8 423.4h0M155.9 519.9h0M212.0 461.7h0M203.4 451.5h0M153.4 518.7h0M154.3 535.1h0M215.8 417.5h0M178.9 470.0h0M167.4 510.8h0M233.6 402.3h0M216.5 421.5h0M163.6 495.6h0M232.7 413.0h0M212.8 418.3h0M165.4 482.7h0M185.1 481.6h0M188.6 480.3h0" stroke="#6A2DB5" stroke-width="5.1" stroke-linecap="round" fill="none"/>
<path d="M233.6 374.3h0M184.7 453.8h0M223.9 438.1h0M191.9 443.1h0M208.2 409.0h0M198.5 445.6h0M200.5 390.3h0M198.2 434.9h0M157.2 535.6h0M165.6 517.0h0M174.1 509.3h0M182.1 452.1h0M186.4 446.1h0M187.2 484.7h0M208.1 427.7h0M233.6 366.2h0M183.4 453.6h0M188.3 437.5h0M187.4 435.9h0M232.3 361.8h0M205.8 405.7h0M209.1 429.3h0M202.4 396.1h0M181.9 450.2h0M183.1 445.2h0M185.4 495.5h0M170.6 518.5h0M180.7 497.4h0M181.6 487.2h0M228.0 348.1h0M201.8 389.4h0M226.7 427.5h0M160.6 503.2h0M205.2 406.7h0M173.7 518.5h0M179.4 454.0h0M185.7 486.0h0M185.1 427.8h0M207.7 460.6h0M156.4 520.3h0M214.0 425.8h0M206.1 480.8h0M212.0 402.4h0M217.4 359.3h0M230.3 422.0h0M160.1 508.7h0M207.9 459.9h0M194.1 439.0h0M218.5 411.5h0M184.4 460.4h0" stroke="#E65C05" stroke-width="5.1" stroke-linecap="round" fill="none"/>
<path d="M184.5 458.3h0M183.9 461.3h0M208.7 388.1h0M224.8 370.5h0M213.6 367.4h0M188.4 497.0h0M188.2 445.6h0M185.0 462.1h0M218.0 356.8h0M221.1 404.8h0M211.4 455.1h0M216.3 426.3h0M198.9 478.7h0M176.4 457.3h0M172.1 475.3h0M190.4 415.2h0M217.0 408.9h0M234.8 372.4h0M154.5 525.6h0M176.7 473.6h0M193.1 423.0h0M148.7 536.4h0M190.5 436.7h0M215.0 454.7h0M211.5 447.8h0M198.2 479.0h0M200.6 453.1h0M192.8 448.7h0M230.4 386.1h0M204.4 412.7h0M165.2 527.0h0M180.1 493.4h0M183.5 454.0h0M193.9 478.9h0M198.3 458.8h0M173.9 507.5h0M206.0 407.7h0M216.1 451.8h0M159.5 508.2h0M186.8 452.6h0M204.1 413.8h0M199.1 437.0h0M178.6 461.3h0M165.4 501.1h0M236.7 359.3h0M165.1 501.8h0M206.3 469.2h0M196.2 406.7h0M153.5 528.2h0M191.6 481.9h0M172.3 505.6h0M193.5 483.7h0M222.8 422.5h0M200.5 402.4h0M201.0 391.6h0M202.2 431.9h0M178.1 460.8h0M200.9 426.5h0M181.7 453.7h0M205.3 446.6h0M229.5 423.6h0M179.4 459.6h0M151.2 523.1h0" stroke="#E65C05" stroke-width="5.1" stroke-linecap="round" fill="none"/>
<path d="M214.6 462.8h0M205.5 436.2h0M193.6 482.3h0M205.5 446.5h0M175.0 495.9h0M165.9 515.8h0M205.7 430.7h0M175.5 482.0h0M198.6 462.3h0M163.4 529.3h0M185.8 468.3h0M203.7 413.5h0M229.3 440.6h0M179.9 484.0h0M183.4 501.6h0M159.4 532.2h0M228.4 413.1h0M222.7 413.3h0M171.2 506.6h0M231.0 430.1h0M160.2 532.3h0M195.2 483.2h0M216.9 421.8h0M223.7 433.9h0M223.0 435.5h0M225.2 429.6h0M152.3 523.3h0M194.9 460.9h0M208.3 446.2h0M203.3 429.1h0M214.3 438.9h0M169.2 522.2h0M220.8 421.2h0M152.2 520.0h0M227.2 422.7h0M180.7 481.1h0M146.5 535.6h0M218.0 450.9h0M182.7 480.9h0M213.6 428.7h0M214.7 465.9h0M219.3 457.6h0M187.3 482.7h0M186.6 500.0h0M185.7 500.4h0M164.6 492.3h0M214.7 442.3h0M217.1 418.5h0M163.0 531.5h0M153.2 530.4h0M193.1 481.8h0M225.1 407.3h0M173.7 489.2h0M226.9 430.9h0M217.3 430.3h0M186.7 479.3h0M178.5 502.6h0M182.7 492.0h0M206.4 443.4h0M181.9 496.3h0M225.7 442.0h0M183.6 449.2h0" stroke="#6A2DB5" stroke-width="5.1" stroke-linecap="round" fill="none"/>
<path d="M212.3 458.5h0M187.5 427.4h0M221.5 428.5h0M195.7 484.7h0M188.7 478.6h0M218.1 460.3h0M229.5 418.7h0M156.0 531.9h0M186.9 476.8h0M192.4 468.7h0M150.8 525.7h0M204.3 455.3h0M162.7 495.9h0M219.1 415.5h0M197.3 489.7h0M208.4 466.4h0M224.6 413.0h0M155.8 512.5h0M190.4 491.4h0M192.2 476.7h0M167.3 500.4h0M177.9 496.2h0M196.7 455.0h0M181.2 500.1h0M211.1 438.5h0M201.5 433.9h0M221.7 424.4h0M196.9 487.1h0M155.3 517.8h0M196.4 451.2h0M207.6 473.0h0M152.4 537.5h0M161.0 534.6h0M215.5 462.8h0M151.5 522.8h0M155.3 539.8h0M172.8 500.6h0M203.5 484.9h0M221.1 414.6h0M219.4 450.1h0M185.6 493.1h0M196.5 474.4h0M217.5 443.7h0M183.9 476.9h0M234.3 411.4h0M218.6 404.8h0M194.0 473.6h0M148.8 543.0h0M196.4 466.1h0M218.0 427.4h0M155.5 523.7h0M201.2 409.9h0" stroke="#6A2DB5" stroke-width="5.1" stroke-linecap="round" fill="none"/>
<path d="M198.7 391.1h0M188.0 494.8h0M198.7 406.0h0M174.7 464.6h0M203.1 398.3h0M168.7 486.8h0M199.9 416.3h0M218.6 372.4h0M162.9 513.8h0M193.2 484.1h0M169.7 485.8h0M223.1 413.1h0M172.4 487.0h0M148.1 530.3h0M183.8 455.6h0M212.3 407.9h0M204.8 481.7h0M172.9 467.7h0M212.9 415.7h0M222.3 373.6h0M202.9 407.1h0M199.5 397.4h0M186.2 480.6h0M226.1 430.2h0M172.6 471.5h0M154.6 512.2h0M203.3 420.4h0M166.9 523.6h0M195.5 408.5h0M223.6 377.4h0M194.6 470.6h0M189.0 483.6h0M197.4 399.8h0M202.2 438.8h0M226.6 409.3h0M190.2 482.0h0M187.1 453.6h0M228.0 388.6h0M201.1 413.1h0M178.8 454.0h0M207.1 398.1h0M204.5 405.8h0M183.0 442.8h0M147.0 536.1h0M191.4 483.2h0M172.8 485.4h0M205.6 440.9h0M218.9 444.5h0M150.7 520.6h0M212.8 399.4h0M215.1 457.2h0M205.7 458.4h0M167.4 476.0h0M180.0 457.4h0M195.3 472.0h0M171.3 473.1h0M173.7 484.7h0M209.6 399.7h0M201.4 411.9h0M148.0 536.6h0M216.1 383.0h0" stroke="#E65C05" stroke-width="5.1" stroke-linecap="round" fill="none"/>
<line x1="50.9" y1="583.8" x2="335.1" y2="335.0" stroke="#000" stroke-width="1.8"/>
<polygon points="207.89,419.94 210.67,426.62 217.88,427.20 212.39,431.90 214.06,438.94 207.89,435.17 201.72,438.94 203.40,431.90 197.91,427.20 205.11,426.62" fill="#F4E514" stroke="#E2261F" stroke-width="1.9" stroke-linejoin="miter"/>
<rect x="50.9" y="335.0" width="284.2" height="248.8" fill="none" stroke="#383838" stroke-width="1.6"/>
<path d="M107.7 583.8v-3M107.7 335.0v3M50.9 534.0h3M335.1 534.0h-3M164.6 583.8v-3M164.6 335.0v3M50.9 484.3h3M335.1 484.3h-3M221.4 583.8v-3M221.4 335.0v3M50.9 434.5h3M335.1 434.5h-3M278.3 583.8v-3M278.3 335.0v3M50.9 384.8h3M335.1 384.8h-3" stroke="#383838" stroke-width="1.5" fill="none"/>
<text x="50.1" y="603.7" text-anchor="middle" class="tk">0</text>
<text x="45.1" y="589.6" text-anchor="end" class="tk">0</text>
<text x="106.9" y="603.7" text-anchor="middle" class="tk">0.5</text>
<text x="45.1" y="539.8" text-anchor="end" class="tk">0.5</text>
<text x="163.8" y="603.7" text-anchor="middle" class="tk">1</text>
<text x="45.1" y="490.1" text-anchor="end" class="tk">1</text>
<text x="220.6" y="603.7" text-anchor="middle" class="tk">1.5</text>
<text x="45.1" y="440.3" text-anchor="end" class="tk">1.5</text>
<text x="277.5" y="603.7" text-anchor="middle" class="tk">2</text>
<text x="45.1" y="390.6" text-anchor="end" class="tk">2</text>
<text x="334.3" y="603.7" text-anchor="middle" class="tk">2.5</text>
<text x="45.1" y="340.8" text-anchor="end" class="tk">2.5</text>
<text x="64.2" y="369.2" class="pl">c</text>
<text x="79.4" y="395.8" class="r2">R</text><text x="93.3" y="386.2" class="r2" style="font-size:12.5px">2</text><text x="101.8" y="395.8" class="r2">=0.53</text>
<g transform="translate(14.1 498.5) rotate(-90)" class="lab"><text x="0.0" y="0" font-size="19.5" font-style="italic" textLength="11.1" lengthAdjust="spacingAndGlyphs">S</text><text x="12.4" y="3" font-size="13.5" font-style="italic" textLength="13.3" lengthAdjust="spacingAndGlyphs">IG</text><text x="27.0" y="0" font-size="19.5" textLength="8.5" lengthAdjust="spacingAndGlyphs">/</text><text x="36.4" y="0" font-size="19.5" textLength="8.5" lengthAdjust="spacingAndGlyphs">2</text><text x="53.1" y="0" font-size="19.5" textLength="24.8" lengthAdjust="spacingAndGlyphs">(m)</text></g>
<g class="lab"><text x="81.7" y="630.1" font-size="19.5" textLength="7.3" lengthAdjust="spacingAndGlyphs">2</text><text x="113.8" y="630.1" font-size="19.5" textLength="30.6" lengthAdjust="spacingAndGlyphs">0.04</text><text x="156.8" y="635.3" font-size="13" font-style="italic" textLength="11.0" lengthAdjust="spacingAndGlyphs">ss</text><text x="173.1" y="630.1" font-size="19.5" font-style="italic" textLength="13.9" lengthAdjust="spacingAndGlyphs">E</text><text x="187.3" y="624.5" font-size="13" textLength="20.1" lengthAdjust="spacingAndGlyphs">0.45</text><text x="209.1" y="630.1" font-size="19.5" font-style="italic">df</text><text x="228.1" y="630.1" font-size="19.5" font-style="italic">f</text><text x="237.8" y="624.5" font-size="13" textLength="30.7" lengthAdjust="spacingAndGlyphs">&#8722;1.50</text><text x="277.7" y="630.1" font-size="19.5" textLength="26.3" lengthAdjust="spacingAndGlyphs">(m)</text></g>
<path d="M97.6 628.6L100.2 625.9L103.8 641.6L114.1 609.1H269.9" fill="none" stroke="#262626" stroke-width="1.2"/>
<path d="M100.2 625.9L103.8 641.6" stroke="#262626" stroke-width="2.2"/>
<path d="M156.1 618.9c-0.8-1.6-3-1.4-3.3 0.8L151.4 633.7c-0.3 2.2-2.5 2.4-3.3 0.8" fill="none" stroke="#262626" stroke-width="1.3"/>
</g><g>
<path d="M545.5 426.0h0M437.6 516.9h0M474.2 469.9h0M544.0 455.1h0M464.8 482.1h0M497.4 415.7h0M513.4 412.5h0M519.0 416.5h0M442.9 527.5h0M483.9 448.3h0M486.7 476.9h0M526.3 442.3h0M457.4 493.4h0M556.2 448.3h0M504.2 458.5h0M487.6 446.1h0M493.0 418.6h0M478.9 494.9h0M526.2 448.1h0M622.9 359.3h0M473.3 448.7h0M500.0 432.7h0M445.8 523.7h0M486.4 447.6h0M562.5 447.6h0M477.1 442.2h0M535.9 386.9h0M489.9 485.0h0M584.7 388.3h0M493.2 465.9h0M536.2 451.8h0M486.7 487.7h0M434.8 533.9h0M513.8 406.2h0M565.3 425.2h0M486.4 476.3h0M554.0 409.5h0M475.8 458.2h0M445.5 508.6h0M531.6 407.7h0M445.7 494.0h0M453.4 488.6h0M538.6 454.6h0M460.8 481.3h0M485.6 471.0h0M459.1 473.2h0M428.0 524.9h0M557.9 393.9h0M526.7 408.3h0M517.2 477.6h0M422.0 540.2h0M545.8 443.0h0M561.9 434.8h0M475.9 471.7h0M507.5 455.1h0M432.3 523.9h0M535.0 394.1h0M501.2 439.7h0M546.7 403.3h0M583.9 418.4h0M430.6 541.1h0M541.6 459.4h0M622.5 372.4h0M533.3 412.0h0M501.1 472.2h0M552.1 453.0h0M473.5 461.1h0M492.2 416.3h0M475.1 491.9h0M622.3 403.7h0M530.2 448.4h0M462.0 483.8h0M527.0 448.4h0M499.0 410.1h0M506.8 436.5h0M500.6 424.5h0M535.4 451.5h0M455.1 505.6h0M447.2 528.3h0M516.0 415.4h0M446.4 493.0h0M591.0 420.0h0M467.3 503.1h0M529.7 403.8h0M559.4 394.1h0M536.9 453.5h0M477.8 441.4h0M490.8 437.2h0M508.2 470.5h0M509.7 470.5h0M473.8 494.2h0M523.4 372.2h0M475.4 495.7h0M449.7 503.3h0M433.4 539.3h0M502.0 471.3h0M432.2 516.4h0M529.2 389.0h0M500.2 416.0h0M465.1 499.0h0M474.7 492.1h0M426.6 525.5h0M524.4 475.9h0M543.6 446.5h0M446.1 519.8h0M562.8 378.1h0" stroke="#E65C05" stroke-width="5.1" stroke-linecap="round" fill="none"/>
<path d="M516.7 420.1h0M492.1 472.8h0M530.6 441.1h0M487.9 469.2h0M564.9 451.6h0M482.5 466.5h0M577.5 435.4h0M584.7 414.6h0M578.3 412.4h0M560.6 402.9h0M563.6 399.3h0M582.1 425.3h0M457.9 484.0h0M515.1 426.8h0M457.4 524.8h0M523.4 414.6h0M532.6 432.9h0M553.8 440.3h0M543.2 408.4h0M590.5 421.7h0M561.8 441.7h0M560.9 431.3h0M540.1 430.9h0M489.3 456.7h0M435.7 523.1h0M494.0 489.6h0M531.0 441.1h0M484.0 446.8h0M505.0 475.0h0M488.1 485.8h0M575.6 433.0h0M551.1 449.5h0M533.3 439.8h0M557.2 435.4h0M513.9 430.4h0M494.1 455.6h0M567.6 438.6h0M570.0 444.8h0M549.8 434.9h0M535.2 421.1h0M481.5 484.3h0M515.7 450.6h0M552.1 416.3h0M590.5 407.4h0M516.9 435.8h0M475.9 469.5h0M582.4 428.6h0M561.9 447.8h0M523.2 423.9h0M512.1 476.9h0M512.0 429.0h0M466.1 472.6h0M579.9 422.4h0M619.8 405.5h0M532.8 438.2h0M530.2 424.7h0M474.7 487.4h0M499.3 445.1h0M516.8 472.7h0M471.5 491.9h0M459.4 517.5h0M479.2 492.9h0M516.1 463.7h0M545.0 430.7h0M452.0 523.5h0M520.4 456.3h0M507.3 472.3h0M557.8 415.6h0M512.9 436.1h0M515.4 437.0h0M483.9 470.7h0M480.8 480.6h0M461.6 498.2h0M458.4 502.2h0M556.7 406.5h0M487.7 461.3h0" stroke="#6A2DB5" stroke-width="5.1" stroke-linecap="round" fill="none"/>
<path d="M432.2 538.1h0M450.9 526.1h0M563.5 395.4h0M464.0 521.0h0M441.9 521.3h0M473.3 471.1h0M591.0 421.9h0M517.1 425.5h0M505.4 465.7h0M475.0 494.4h0M437.6 526.8h0M493.8 451.1h0M574.7 420.6h0M497.8 472.8h0M556.8 403.5h0M539.9 444.1h0M495.3 449.1h0M551.0 410.3h0M513.4 471.9h0M466.4 506.5h0M466.8 470.7h0M575.0 440.1h0M487.6 468.8h0M545.3 423.0h0M535.9 409.9h0M479.3 470.8h0M511.7 424.3h0M526.6 427.2h0M546.2 420.6h0M610.5 402.4h0M548.2 408.0h0M571.1 414.0h0M531.6 430.0h0M542.8 414.9h0M429.7 529.5h0M575.9 415.0h0M565.9 445.9h0M537.2 411.8h0M483.7 438.5h0M436.8 536.4h0M582.4 395.6h0M459.7 506.4h0M492.4 471.9h0M553.7 424.6h0M579.2 412.4h0M591.4 417.5h0M535.4 415.9h0M542.4 424.5h0M436.0 535.2h0M530.0 413.1h0M577.3 419.3h0M542.8 439.0h0M545.3 410.2h0M517.9 443.9h0M576.5 397.8h0M502.2 446.5h0M438.7 535.1h0M571.9 415.1h0M533.9 450.9h0M474.9 471.0h0M555.1 439.2h0M471.8 506.6h0M561.2 414.1h0M563.0 448.9h0M489.5 460.1h0M469.0 507.4h0M582.8 425.5h0M553.6 440.7h0M544.0 423.4h0M581.8 416.1h0M538.4 463.1h0M584.9 419.1h0M448.5 488.5h0M531.7 438.4h0M551.5 431.0h0M571.5 400.7h0M483.1 487.5h0M474.8 491.9h0M554.1 406.2h0" stroke="#6A2DB5" stroke-width="5.1" stroke-linecap="round" fill="none"/>
<path d="M479.8 477.5h0M449.5 497.7h0M462.1 515.8h0M471.5 504.0h0M510.3 466.6h0M486.8 437.6h0M490.3 423.4h0M463.0 468.3h0M434.9 517.1h0M470.1 491.2h0M535.3 452.4h0M557.5 387.0h0M517.2 402.6h0M582.5 368.6h0M574.5 405.1h0M543.1 365.7h0M545.3 461.9h0M454.1 485.7h0M479.7 474.4h0M442.9 517.8h0M429.9 539.5h0M467.7 471.7h0M478.9 457.7h0M496.9 471.4h0M456.5 524.8h0M487.1 428.3h0M590.5 398.7h0M481.7 443.9h0M513.1 458.2h0M535.1 405.0h0M557.7 445.6h0M583.1 399.3h0M552.0 395.5h0M582.4 408.0h0M492.1 493.1h0M538.7 429.3h0M429.9 524.2h0M571.7 403.2h0M486.0 474.2h0M521.8 446.3h0M530.2 454.8h0M431.6 531.0h0M590.5 365.4h0M487.8 490.6h0M599.9 386.2h0M542.3 405.1h0M477.8 464.3h0M510.7 481.8h0M541.2 428.0h0M476.3 502.6h0M440.5 498.7h0M464.1 481.6h0M512.2 408.8h0M461.9 492.2h0M501.1 426.2h0M473.0 452.8h0M561.9 444.9h0M482.0 489.2h0M575.9 370.8h0M445.7 515.4h0M572.5 406.2h0M475.8 458.3h0M447.1 527.8h0M512.2 409.1h0M527.2 390.9h0M507.2 408.2h0M475.2 473.6h0M584.3 388.7h0M491.6 485.9h0M518.5 474.1h0M558.4 394.1h0M473.2 460.8h0M582.5 370.0h0M558.4 339.1h0M434.8 518.3h0M461.5 498.7h0M502.9 401.4h0M459.9 480.8h0M508.6 472.4h0M479.6 464.3h0M517.2 404.0h0M433.7 517.1h0M461.0 511.2h0M574.5 443.6h0M488.4 450.7h0M481.9 443.5h0M446.1 527.7h0M438.3 510.9h0M516.3 457.9h0M506.1 461.3h0M503.5 482.2h0M466.3 474.3h0M484.8 440.3h0M532.1 400.6h0M517.1 408.1h0M462.7 480.6h0M538.9 453.4h0M446.7 526.7h0M481.3 487.6h0M470.7 458.6h0M582.4 439.2h0M543.2 401.0h0M476.4 459.3h0" stroke="#E65C05" stroke-width="5.1" stroke-linecap="round" fill="none"/>
<path d="M501.5 406.5h0M547.7 403.5h0M469.3 486.0h0M559.8 399.4h0M562.8 346.7h0M478.5 487.6h0M498.4 420.9h0M461.6 488.8h0M534.6 453.6h0M471.5 483.8h0M521.7 447.9h0M553.3 385.4h0M580.6 386.9h0M531.3 428.6h0M564.5 448.2h0M563.5 387.1h0M458.0 507.1h0M494.3 479.6h0M537.9 435.8h0M477.8 472.8h0M525.0 398.8h0M501.5 470.5h0M599.3 389.0h0M590.5 365.4h0M508.9 472.8h0M542.2 442.4h0M478.2 444.7h0M547.2 395.4h0M486.1 477.9h0M560.6 394.9h0M574.3 444.2h0M467.7 506.8h0M506.2 480.8h0M460.1 508.7h0M456.7 486.3h0M439.2 515.2h0M456.3 505.0h0M471.6 504.9h0M437.8 522.1h0M461.1 492.0h0M474.3 496.1h0M445.8 481.7h0M477.8 487.3h0M502.8 476.5h0M479.5 500.7h0M508.4 449.7h0M460.1 486.4h0M502.7 469.8h0M521.4 395.5h0M494.7 459.2h0M535.9 441.8h0M561.2 394.3h0M505.6 425.7h0M542.6 403.6h0M473.0 472.7h0M477.0 472.9h0M548.2 402.9h0M469.2 496.3h0M505.9 395.6h0M504.2 423.2h0M599.7 368.9h0M481.5 472.5h0M425.5 543.5h0M562.0 405.2h0M499.5 434.5h0M469.8 484.4h0M547.3 384.9h0M475.4 466.2h0M546.9 385.8h0M524.1 409.5h0M539.5 453.0h0M512.2 482.3h0M499.5 483.5h0M494.1 452.4h0M462.4 497.4h0M527.3 448.1h0M494.1 487.6h0M550.7 395.0h0M497.5 446.0h0M554.1 396.1h0M433.2 515.7h0M510.6 405.4h0M438.6 506.0h0M567.2 408.7h0M566.1 421.6h0M449.0 529.3h0M496.5 478.2h0M489.1 436.4h0M501.1 476.2h0M487.2 436.2h0M504.2 472.7h0M531.6 450.3h0M453.7 484.6h0M551.1 356.9h0M469.3 463.8h0M485.4 482.4h0M619.9 362.3h0M422.7 540.9h0M479.8 472.1h0M427.3 530.8h0M563.4 411.8h0M549.6 354.7h0M466.6 465.0h0M498.7 444.4h0M577.4 410.9h0M518.2 403.8h0M533.2 450.4h0" stroke="#E65C05" stroke-width="5.1" stroke-linecap="round" fill="none"/>
<path d="M561.9 399.9h0M588.2 420.5h0M432.5 526.9h0M494.9 480.8h0M450.5 518.1h0M532.3 426.8h0M499.1 408.9h0M525.5 422.4h0M499.7 484.3h0M496.2 480.0h0M568.6 424.2h0M587.3 425.9h0M527.3 415.2h0M536.1 445.6h0M517.6 439.1h0M454.7 482.8h0M563.7 433.5h0M571.2 424.2h0M427.6 539.6h0M585.0 434.2h0M486.3 496.1h0M589.4 410.1h0M488.5 457.2h0M493.4 451.4h0M470.8 470.9h0M535.9 433.4h0M555.2 410.9h0M559.3 401.2h0M541.5 428.6h0M573.7 398.7h0M433.4 515.1h0M478.0 496.9h0M523.0 433.8h0M503.8 459.2h0M504.3 446.0h0M539.3 442.0h0M552.8 403.1h0M489.6 491.5h0M575.9 429.5h0M538.2 444.9h0M543.6 416.8h0M432.7 535.8h0M539.1 432.4h0M568.6 440.0h0M430.6 535.0h0M522.3 389.7h0M522.0 435.2h0M502.2 487.8h0M541.4 419.3h0M474.4 474.1h0M532.2 410.5h0M473.4 475.6h0M494.3 492.5h0M475.2 468.6h0M538.3 442.2h0M487.7 459.8h0M561.3 402.9h0M561.9 403.1h0M561.9 403.3h0M544.3 432.2h0M475.9 471.8h0M514.1 438.6h0M530.7 410.2h0M562.1 430.5h0M499.5 441.8h0M557.4 421.6h0M507.8 482.9h0M590.5 407.3h0M532.5 450.4h0M520.5 399.8h0M452.3 516.6h0M513.3 474.2h0M521.6 413.0h0M485.6 458.9h0M504.1 445.9h0M524.0 470.0h0M458.6 515.2h0M574.6 397.0h0M549.4 406.0h0M540.9 438.0h0M538.8 418.2h0M551.3 424.7h0M547.6 428.3h0M572.0 397.4h0M550.0 437.2h0M530.7 476.5h0M532.3 446.9h0M499.6 482.8h0M498.0 465.8h0M498.1 429.3h0M555.7 423.3h0" stroke="#6A2DB5" stroke-width="5.1" stroke-linecap="round" fill="none"/>
<path d="M447.6 498.4h0M563.2 449.1h0M496.9 448.7h0M547.1 417.3h0M501.6 488.4h0M529.6 426.9h0M548.5 421.5h0M547.5 447.4h0M500.5 455.9h0M490.4 475.7h0M456.9 507.6h0M501.3 444.4h0M514.2 463.3h0M559.1 410.4h0M538.9 448.9h0M480.5 461.5h0M506.7 430.5h0M568.7 438.6h0M489.1 467.5h0M484.3 463.7h0M563.6 403.0h0M549.4 417.5h0M589.6 429.5h0M439.8 519.9h0M534.8 423.9h0M538.2 448.0h0M570.3 422.4h0M549.6 430.0h0M553.9 430.1h0M549.7 406.1h0M531.6 421.0h0M522.4 446.2h0M572.4 421.4h0M552.1 421.8h0M462.1 480.4h0M505.8 419.3h0M494.2 482.7h0M507.4 434.2h0M499.0 408.6h0M476.6 467.3h0M519.9 474.3h0M581.8 417.0h0M486.4 475.0h0M557.5 416.7h0M523.5 431.5h0M518.8 426.3h0M430.5 526.5h0M545.5 431.3h0M545.3 455.6h0M506.9 477.6h0M516.9 440.8h0M561.2 447.3h0M589.0 429.7h0M535.7 430.8h0M478.7 485.2h0M489.4 490.8h0M454.9 509.5h0M547.4 437.2h0M505.8 479.6h0M586.9 422.0h0M549.1 420.6h0M478.0 500.8h0M514.3 431.4h0M526.4 423.1h0M575.0 400.6h0M505.9 472.8h0M548.1 427.2h0M453.0 518.3h0M487.9 421.3h0M420.4 535.8h0M462.0 508.3h0M495.4 456.9h0M528.3 390.4h0M515.5 453.3h0M574.0 405.3h0" stroke="#6A2DB5" stroke-width="5.1" stroke-linecap="round" fill="none"/>
<path d="M508.3 484.5h0M496.3 430.0h0M515.6 474.3h0M451.1 487.1h0M525.5 408.4h0M448.2 487.9h0M483.1 472.8h0M488.4 432.1h0M538.4 431.4h0M472.4 484.8h0M522.6 397.0h0M556.2 384.6h0M480.8 481.7h0M478.7 487.9h0M536.5 379.5h0M427.8 523.7h0M496.9 484.9h0M466.7 470.3h0M540.1 370.0h0M483.4 484.3h0M461.8 480.1h0M496.9 486.5h0M510.1 422.3h0M535.9 433.3h0M528.3 457.7h0M504.2 428.9h0M430.4 517.3h0M449.4 500.6h0M458.9 488.8h0M555.5 402.2h0M525.2 411.2h0M506.1 457.5h0M477.8 474.7h0M512.4 397.0h0M492.6 442.6h0M475.2 492.5h0M465.1 508.4h0M462.7 522.5h0M534.3 386.1h0M474.1 503.3h0M517.9 392.6h0M489.7 433.9h0M474.1 486.6h0M532.4 468.5h0M580.6 404.9h0M481.1 452.9h0M496.2 428.4h0M474.1 457.3h0M584.9 392.5h0M461.6 516.0h0M481.5 474.8h0M470.7 503.5h0M468.8 463.9h0M482.7 485.6h0M447.1 495.6h0M488.9 481.6h0M478.9 444.0h0M532.2 395.1h0M517.5 391.2h0M571.6 423.0h0M511.8 421.5h0M562.0 345.2h0M501.3 432.7h0M476.1 484.1h0M498.7 475.9h0M458.9 494.7h0M531.2 426.9h0M492.8 486.7h0M457.8 486.4h0M527.7 370.8h0M438.4 516.9h0M581.8 386.8h0M471.6 470.9h0M508.9 420.9h0M526.3 399.2h0M516.0 455.8h0M566.9 412.4h0M520.5 422.2h0M497.3 473.2h0M475.6 446.7h0M504.2 471.0h0M485.2 443.2h0M519.0 406.5h0M517.3 454.8h0M507.6 423.3h0M462.1 470.0h0M432.9 513.6h0M534.5 407.3h0M527.3 434.3h0M598.8 388.6h0M474.2 500.7h0M619.8 401.8h0M533.1 404.5h0M543.5 455.7h0M492.9 428.3h0M484.4 428.3h0M488.1 475.3h0M537.2 408.7h0M443.3 524.1h0M531.6 436.9h0M490.8 420.0h0M521.2 387.9h0M502.0 481.7h0M488.2 442.4h0M590.1 405.8h0" stroke="#E65C05" stroke-width="5.1" stroke-linecap="round" fill="none"/>
<path d="M533.8 467.1h0M485.1 474.2h0M500.0 408.8h0M504.8 418.7h0M572.5 447.3h0M434.8 525.7h0M441.0 523.6h0M449.0 491.7h0M421.8 533.2h0M476.3 479.1h0M598.8 363.2h0M530.7 442.2h0M509.8 406.1h0M448.8 489.9h0M488.3 439.5h0M465.9 518.1h0M463.8 486.8h0M468.0 514.4h0M494.6 421.1h0M535.8 358.4h0M497.9 410.8h0M499.5 483.9h0M487.8 443.9h0M510.0 470.5h0M546.0 394.2h0M483.2 443.8h0M521.1 471.9h0M543.4 404.9h0M536.5 466.3h0M501.8 479.2h0M491.8 424.9h0M510.9 464.3h0M572.3 447.3h0M505.3 415.1h0M460.2 505.4h0M476.7 447.9h0M449.4 506.2h0M534.3 373.0h0M455.6 509.0h0M465.2 473.5h0M529.2 369.3h0M598.5 368.6h0M457.6 475.6h0M477.2 476.8h0M551.1 391.9h0M443.6 506.9h0M473.4 471.8h0M536.8 402.2h0M449.3 502.9h0M436.2 529.9h0M481.1 463.6h0M534.5 451.3h0M553.2 452.8h0M513.6 463.8h0M465.9 481.6h0M486.9 432.4h0M530.5 440.2h0M535.1 466.7h0M520.4 436.3h0M472.5 482.5h0M494.9 428.0h0M528.1 403.2h0M468.2 465.7h0M515.5 443.8h0M561.2 413.0h0M467.4 506.2h0M551.4 398.8h0M598.5 363.5h0M481.5 500.3h0M576.6 431.2h0M590.5 398.5h0M473.2 453.0h0M530.6 398.9h0M474.0 502.1h0M498.5 423.8h0M514.6 397.9h0M561.9 454.1h0M452.7 498.1h0M479.5 485.8h0M499.5 418.9h0M527.1 405.5h0M459.6 481.7h0M484.9 432.8h0M491.9 438.9h0M473.1 461.4h0M545.4 452.7h0M536.2 388.9h0M496.6 426.4h0M563.9 407.9h0M469.6 487.8h0M464.6 506.1h0M521.0 476.1h0M486.1 433.8h0M584.4 387.7h0M505.6 413.7h0" stroke="#E65C05" stroke-width="5.1" stroke-linecap="round" fill="none"/>
<path d="M509.5 431.7h0M574.2 435.6h0M571.7 447.0h0M557.6 428.1h0M574.3 402.3h0M571.5 405.2h0M461.9 481.1h0M543.1 410.9h0M599.3 408.7h0M510.2 471.7h0M540.5 449.6h0M553.7 430.2h0M571.0 431.5h0M484.3 478.3h0M527.1 418.8h0M535.0 459.0h0M589.3 416.6h0M507.9 444.5h0M573.0 435.0h0M546.6 412.3h0M512.0 439.6h0M564.4 399.6h0M486.8 473.0h0M544.0 440.7h0M520.9 443.4h0M499.5 489.7h0M514.7 455.4h0M526.6 463.0h0M492.0 470.4h0M490.3 472.2h0M544.9 406.9h0M533.2 433.2h0M521.5 431.6h0M515.4 428.9h0M547.9 441.5h0M457.7 509.7h0M454.1 493.6h0M450.6 510.3h0M445.0 518.7h0M535.4 421.6h0M433.2 524.2h0M557.2 424.4h0M575.0 438.6h0M588.8 410.8h0M555.3 438.5h0M566.5 432.1h0M493.4 483.0h0M520.0 452.0h0M481.9 484.3h0M501.9 439.9h0M569.3 446.1h0M462.6 477.2h0M511.3 441.5h0M443.9 524.9h0M517.3 441.4h0M507.3 458.2h0M485.1 484.3h0M486.0 458.6h0M542.1 436.7h0M441.5 508.7h0M474.4 481.5h0M428.6 537.5h0M555.6 423.6h0M476.7 475.2h0M475.4 473.8h0M556.5 419.0h0M567.7 442.5h0M506.9 468.7h0M562.7 424.9h0M565.6 432.3h0M567.6 434.6h0M449.4 529.9h0M572.4 440.1h0M469.1 519.7h0M527.8 415.8h0" stroke="#6A2DB5" stroke-width="5.1" stroke-linecap="round" fill="none"/>
<path d="M502.4 484.6h0M438.1 535.5h0M451.7 484.3h0M458.2 510.4h0M573.7 421.1h0M455.6 500.8h0M517.6 433.3h0M466.9 514.2h0M534.9 418.0h0M506.4 480.3h0M492.1 477.6h0M581.8 412.4h0M622.3 411.2h0M523.0 425.6h0M443.9 517.9h0M556.4 406.4h0M545.3 431.5h0M552.4 414.3h0M564.2 445.8h0M565.9 399.6h0M558.6 423.2h0M580.0 425.8h0M556.0 406.2h0M576.3 405.0h0M542.5 437.5h0M535.3 409.9h0M469.6 510.6h0M576.0 436.0h0M525.2 433.3h0M610.5 408.7h0M591.3 409.7h0M541.0 423.5h0M426.2 530.1h0M599.3 406.8h0M537.5 411.2h0M502.6 451.2h0M519.7 444.2h0M542.1 434.2h0M499.3 480.2h0M442.8 493.9h0M493.4 459.3h0M456.6 524.6h0M440.9 527.0h0M503.5 442.2h0M583.7 424.2h0M473.0 499.1h0M529.3 441.1h0M483.7 495.6h0M534.8 412.5h0M424.1 542.7h0M475.0 493.3h0M521.8 453.6h0M441.1 493.6h0M482.9 490.9h0M585.9 413.7h0M520.4 459.5h0M452.1 486.4h0M493.2 498.5h0M544.5 431.5h0M488.2 464.1h0M472.1 495.1h0M468.3 494.2h0M530.5 414.4h0M561.6 446.8h0M496.2 451.6h0M495.5 414.5h0M465.4 506.5h0M584.9 425.5h0M531.6 416.9h0M490.2 456.3h0M574.8 442.9h0M571.6 431.6h0M520.5 454.3h0M541.3 448.6h0" stroke="#6A2DB5" stroke-width="5.1" stroke-linecap="round" fill="none"/>
<path d="M470.8 495.8h0M479.4 477.3h0M495.9 413.9h0M509.9 441.8h0M504.0 411.7h0M541.2 418.8h0M574.5 374.4h0M474.0 462.1h0M479.3 492.7h0M506.1 408.0h0M485.6 448.2h0M522.9 411.4h0M499.5 427.3h0M582.6 369.3h0M506.1 473.4h0M526.7 474.4h0M555.9 386.0h0M451.1 491.8h0M438.6 516.4h0M477.7 472.4h0M487.8 448.6h0M475.9 482.0h0M472.3 499.3h0M454.2 508.1h0M471.5 457.7h0M518.0 465.9h0M500.9 488.6h0M557.4 431.9h0M446.2 492.1h0M462.5 519.4h0M562.4 436.3h0M457.0 486.0h0M533.9 401.6h0M526.7 451.8h0M514.5 462.8h0M520.4 391.0h0M493.2 423.7h0M479.3 489.0h0M491.0 480.9h0M474.0 489.6h0M469.1 481.3h0M491.0 430.2h0M558.4 383.2h0M472.0 470.5h0M435.8 508.5h0M540.8 458.4h0M455.4 524.1h0M505.8 413.8h0M586.2 419.4h0M477.2 490.9h0M473.9 487.0h0M582.5 348.1h0M565.0 377.3h0M458.0 505.2h0M508.4 418.0h0M579.6 399.2h0M501.4 454.9h0M598.5 386.8h0M508.8 402.2h0M537.5 403.3h0M442.8 521.9h0M519.2 473.1h0M465.0 516.7h0M561.3 353.2h0M443.3 514.2h0M436.6 518.3h0M446.2 494.4h0M571.5 442.4h0M567.5 401.8h0M576.2 411.2h0M511.1 481.6h0M425.4 543.4h0M539.9 453.3h0M455.3 516.8h0M457.7 506.3h0M503.8 430.0h0M487.2 422.1h0M479.2 441.2h0M479.4 477.4h0M505.7 465.0h0M505.6 424.4h0M498.9 413.7h0M527.9 467.8h0M525.5 395.6h0M507.5 419.4h0M473.3 492.0h0M450.0 503.4h0M514.8 402.4h0M512.2 442.9h0M481.3 486.0h0M451.4 496.2h0M552.2 445.1h0M443.0 527.7h0M506.5 477.3h0M495.0 419.8h0M505.0 458.0h0M501.7 413.3h0M491.9 434.6h0M567.9 390.5h0M543.3 393.0h0M610.7 374.6h0M493.0 414.7h0M566.0 444.5h0M518.3 393.3h0M505.4 428.9h0M559.5 389.9h0M498.5 477.9h0M489.4 473.9h0M461.2 492.8h0M459.6 502.4h0M484.0 462.3h0M493.4 463.2h0M505.1 470.8h0" stroke="#E65C05" stroke-width="5.1" stroke-linecap="round" fill="none"/>
<path d="M582.5 440.0h0M496.0 441.0h0M571.0 413.1h0M490.5 428.7h0M481.9 443.7h0M502.7 474.1h0M570.7 401.9h0M517.9 476.8h0M516.1 468.7h0M457.7 473.0h0M500.0 454.0h0M498.3 484.2h0M610.7 367.1h0M573.0 354.0h0M546.1 402.5h0M509.8 467.7h0M575.0 403.7h0M538.2 438.5h0M515.0 461.2h0M504.4 482.7h0M533.6 397.8h0M442.4 530.7h0M445.4 509.1h0M533.3 448.5h0M573.0 375.1h0M561.2 389.9h0M461.8 473.5h0M442.0 492.1h0M507.8 458.0h0M427.2 525.0h0M543.3 415.6h0M466.3 516.8h0M466.7 491.6h0M511.9 409.4h0M542.3 401.4h0M521.2 413.1h0M497.2 479.2h0M442.1 513.5h0M444.0 504.3h0M454.5 482.7h0M534.6 442.3h0M475.0 448.5h0M507.8 406.8h0M499.3 409.4h0M464.1 480.7h0M575.1 398.9h0M512.6 408.0h0M474.3 494.9h0M476.1 471.8h0M548.2 367.8h0M496.9 433.2h0M470.2 492.9h0M530.9 448.7h0M482.9 480.3h0M473.0 495.6h0M482.5 484.5h0M466.2 460.7h0M510.2 402.7h0M497.4 471.4h0M460.6 479.9h0M533.2 387.7h0M443.7 492.8h0M506.9 413.2h0M485.3 463.6h0M564.2 400.7h0M531.1 408.9h0M457.1 505.6h0M568.6 370.8h0M561.3 453.9h0M441.3 503.6h0M495.4 482.5h0M504.9 464.4h0M469.0 505.9h0M477.3 489.2h0M554.8 427.2h0M581.0 386.8h0M499.9 473.0h0M475.8 459.8h0M517.6 447.8h0M524.6 412.5h0M461.2 502.3h0M502.6 417.2h0M546.0 392.7h0M529.6 393.9h0M561.3 445.6h0M495.2 487.2h0M489.9 479.0h0M431.1 516.3h0M453.0 489.8h0M547.3 396.2h0M473.0 485.9h0M538.0 399.2h0M547.1 410.2h0M540.5 405.4h0M483.2 481.6h0M463.5 501.3h0M489.4 474.1h0M619.9 374.2h0M523.0 411.5h0M532.2 461.7h0M495.4 486.5h0M581.8 406.5h0M426.3 535.5h0M437.9 528.7h0M471.6 492.7h0M510.9 419.0h0M543.8 456.0h0M473.7 479.6h0" stroke="#E65C05" stroke-width="5.1" stroke-linecap="round" fill="none"/>
<path d="M449.0 515.7h0M496.4 475.0h0M497.1 444.1h0M498.0 447.5h0M501.4 424.8h0M490.3 470.0h0M542.6 418.2h0M563.7 444.8h0M496.9 449.9h0M461.1 515.1h0M548.3 432.1h0M531.6 423.1h0M490.4 487.9h0M580.3 432.6h0M557.7 453.9h0M527.3 428.1h0M513.1 429.3h0M461.9 498.0h0M535.1 431.3h0M547.6 408.2h0M484.4 480.8h0M551.1 405.1h0M572.5 444.7h0M501.8 457.0h0M425.6 533.5h0M578.8 434.7h0M494.7 431.0h0M497.0 473.0h0M429.6 534.4h0M587.7 421.8h0M543.2 431.9h0M475.8 471.2h0M520.6 443.1h0M449.2 505.9h0M532.1 464.1h0M504.4 442.4h0M481.8 462.4h0M505.1 483.6h0M563.5 422.2h0M520.6 443.1h0M491.2 458.2h0M495.5 486.1h0M476.1 468.5h0M531.2 421.9h0M468.9 494.5h0M467.6 474.9h0M472.0 492.3h0M524.6 416.8h0M444.0 516.1h0M498.7 462.3h0M556.2 426.0h0M488.9 493.8h0M529.8 436.4h0M546.1 443.5h0M575.1 435.4h0M504.0 452.4h0M502.7 472.8h0M570.9 414.1h0M558.4 445.1h0M550.9 403.7h0M561.4 399.6h0M482.4 467.6h0M569.6 439.9h0M473.4 495.1h0M475.4 486.1h0M511.6 443.8h0M540.8 425.3h0M464.9 518.1h0M473.8 490.2h0M564.6 393.2h0M537.1 443.1h0M559.3 400.9h0M518.6 433.3h0M579.0 408.2h0M488.7 492.3h0M538.8 415.0h0M548.2 405.7h0M521.2 440.2h0M526.3 428.3h0M532.2 432.9h0M505.4 478.1h0" stroke="#6A2DB5" stroke-width="5.1" stroke-linecap="round" fill="none"/>
<path d="M493.4 487.2h0M489.7 490.9h0M427.8 535.5h0M546.8 412.4h0M580.8 437.5h0M494.2 454.7h0M583.5 404.6h0M464.0 523.3h0M508.7 441.9h0M457.8 514.7h0M551.8 458.2h0M549.9 435.7h0M545.4 442.1h0M524.8 473.8h0M525.2 423.3h0M439.0 533.1h0M497.6 450.1h0M580.4 419.5h0M483.5 483.7h0M448.0 528.9h0M477.3 466.0h0M599.3 414.9h0M540.5 440.6h0M539.1 410.2h0M598.5 407.3h0M516.4 453.6h0M528.8 416.3h0M457.1 504.6h0M505.1 473.5h0M515.5 437.3h0M496.0 475.1h0M484.9 460.9h0M518.6 448.3h0M470.4 471.8h0M513.0 439.4h0M527.2 437.1h0M512.0 435.2h0M573.7 398.5h0M530.6 426.2h0M508.6 475.2h0M566.3 391.5h0M491.5 486.2h0M548.4 433.3h0M526.5 420.1h0M507.6 443.8h0M541.9 407.9h0M489.7 455.2h0M495.8 447.2h0M547.9 438.7h0M580.6 434.8h0M459.0 507.0h0M535.3 405.4h0M430.6 536.0h0M456.7 477.5h0M477.1 485.0h0M509.1 465.2h0M544.1 422.5h0M557.6 403.4h0M503.1 437.2h0M524.4 476.0h0M557.9 425.6h0M551.3 412.0h0M502.8 487.2h0M562.0 399.2h0M498.2 413.8h0M448.3 520.2h0M503.2 477.5h0M486.3 458.4h0M490.7 470.4h0M462.4 487.6h0M443.6 505.4h0M561.0 404.7h0M567.5 429.8h0M481.0 470.7h0M562.5 452.3h0M526.3 413.1h0M582.5 395.6h0M505.8 476.0h0M539.5 418.3h0M489.3 481.1h0M486.7 463.3h0M583.7 415.5h0M573.1 427.4h0M506.9 450.9h0M479.3 469.3h0M572.4 439.1h0M549.2 442.4h0M530.9 414.3h0M564.4 411.1h0M551.5 438.0h0M493.4 491.6h0M508.2 444.1h0M481.3 486.4h0M502.8 457.9h0M553.4 423.4h0" stroke="#6A2DB5" stroke-width="5.1" stroke-linecap="round" fill="none"/>
<path d="M455.0 487.2h0M459.9 501.6h0M450.5 487.4h0M444.1 510.9h0M482.3 445.1h0M539.4 409.1h0M491.3 455.3h0M464.7 495.8h0M535.8 402.9h0M459.7 479.7h0M475.8 474.3h0M510.4 414.3h0M495.0 442.9h0M506.7 416.7h0M476.9 489.6h0M496.7 432.3h0M481.0 462.2h0M481.3 499.8h0M523.4 394.0h0M548.9 398.4h0M512.0 421.8h0M439.2 529.7h0M434.9 535.1h0M460.9 507.7h0M543.5 453.1h0M565.7 403.6h0M521.2 389.7h0M503.0 474.4h0M462.5 491.7h0M495.5 481.7h0M498.4 480.1h0M479.4 499.8h0M470.2 471.6h0M510.9 405.1h0M508.0 391.2h0M538.2 456.2h0M574.5 353.2h0M580.6 399.3h0M507.5 464.8h0M474.1 454.8h0M503.9 478.4h0M458.1 472.5h0M436.6 502.2h0M582.6 348.3h0M499.5 472.3h0M483.0 439.3h0M522.5 455.9h0M470.1 484.0h0M487.7 488.4h0M468.5 473.4h0M448.5 506.6h0M458.5 493.6h0M552.2 457.0h0M543.9 412.8h0M425.3 544.6h0M587.2 410.4h0M506.6 484.0h0M551.8 396.5h0M539.4 394.9h0M546.0 366.4h0M508.4 477.2h0M445.8 494.2h0M565.0 423.6h0M526.4 464.2h0M478.3 487.5h0M511.8 411.6h0M508.0 463.0h0M519.9 441.7h0M507.0 475.1h0M443.0 500.6h0M491.8 457.3h0M479.8 498.8h0M513.9 411.8h0M553.0 438.0h0M518.2 376.6h0M459.3 493.3h0M520.5 387.7h0M481.3 470.7h0M531.2 408.4h0M464.3 487.9h0M445.8 509.0h0M485.5 484.4h0M493.8 492.2h0M501.5 429.9h0M524.1 386.1h0M526.7 409.1h0M526.9 406.1h0M465.6 471.3h0M526.1 458.6h0M503.2 484.2h0M599.7 386.4h0M568.1 390.6h0M538.9 412.9h0M508.6 479.6h0M495.3 473.7h0M489.1 422.9h0M429.5 527.4h0M524.2 407.8h0M481.6 491.9h0M517.5 459.2h0M440.7 526.9h0M471.2 458.3h0M524.2 419.0h0M568.7 416.8h0M550.5 447.3h0M501.6 428.8h0M561.3 408.0h0M484.9 479.8h0M514.7 416.5h0M539.6 421.6h0M527.6 402.4h0" stroke="#E65C05" stroke-width="5.1" stroke-linecap="round" fill="none"/>
<line x1="362.9" y1="583.8" x2="647.1" y2="335.0" stroke="#000" stroke-width="1.8"/>
<polygon points="527.39,419.74 530.17,426.42 537.38,427.00 531.89,431.70 533.57,438.74 527.39,434.97 521.22,438.74 522.90,431.70 517.41,427.00 524.62,426.42" fill="#F4E514" stroke="#E2261F" stroke-width="1.9" stroke-linejoin="miter"/>
<rect x="362.9" y="335.0" width="284.2" height="248.8" fill="none" stroke="#383838" stroke-width="1.6"/>
<path d="M419.7 583.8v-3M419.7 335.0v3M362.9 534.0h3M647.1 534.0h-3M476.6 583.8v-3M476.6 335.0v3M362.9 484.3h3M647.1 484.3h-3M533.4 583.8v-3M533.4 335.0v3M362.9 434.5h3M647.1 434.5h-3M590.3 583.8v-3M590.3 335.0v3M362.9 384.8h3M647.1 384.8h-3" stroke="#383838" stroke-width="1.5" fill="none"/>
<text x="362.1" y="603.7" text-anchor="middle" class="tk">0</text>
<text x="418.9" y="603.7" text-anchor="middle" class="tk">0.5</text>
<text x="475.8" y="603.7" text-anchor="middle" class="tk">1</text>
<text x="532.6" y="603.7" text-anchor="middle" class="tk">1.5</text>
<text x="589.5" y="603.7" text-anchor="middle" class="tk">2</text>
<text x="646.3" y="603.7" text-anchor="middle" class="tk">2.5</text>
<text x="376.2" y="369.2" class="pl">d</text>
<text x="391.4" y="395.8" class="r2">R</text><text x="405.3" y="386.2" class="r2" style="font-size:12.5px">2</text><text x="413.8" y="395.8" class="r2">=0.76</text>
<g class="lab"><text x="393.6" y="630.1" font-size="19.5" textLength="7.3" lengthAdjust="spacingAndGlyphs">2</text><text x="425.8" y="630.1" font-size="19.5" textLength="30.6" lengthAdjust="spacingAndGlyphs">0.04</text><text x="468.8" y="635.3" font-size="13" font-style="italic" textLength="11.0" lengthAdjust="spacingAndGlyphs">ss</text><text x="485.1" y="630.1" font-size="19.5" font-style="italic" textLength="13.9" lengthAdjust="spacingAndGlyphs">E</text><text x="499.3" y="624.5" font-size="13" textLength="20.1" lengthAdjust="spacingAndGlyphs">1.00</text><text x="521.1" y="630.1" font-size="19.5" font-style="italic">df</text><text x="540.1" y="630.1" font-size="19.5" font-style="italic">f</text><text x="549.8" y="624.5" font-size="13" textLength="30.7" lengthAdjust="spacingAndGlyphs">&#8722;1.00</text><text x="589.7" y="630.1" font-size="19.5" textLength="26.3" lengthAdjust="spacingAndGlyphs">(m)</text></g>
<path d="M409.6 628.6L412.2 625.9L415.8 641.6L426.1 609.1H581.9" fill="none" stroke="#262626" stroke-width="1.2"/>
<path d="M412.2 625.9L415.8 641.6" stroke="#262626" stroke-width="2.2"/>
<path d="M468.1 618.9c-0.8-1.6-3-1.4-3.3 0.8L463.4 633.7c-0.3 2.2-2.5 2.4-3.3 0.8" fill="none" stroke="#262626" stroke-width="1.3"/>
</g>
</svg>
</body></html>
